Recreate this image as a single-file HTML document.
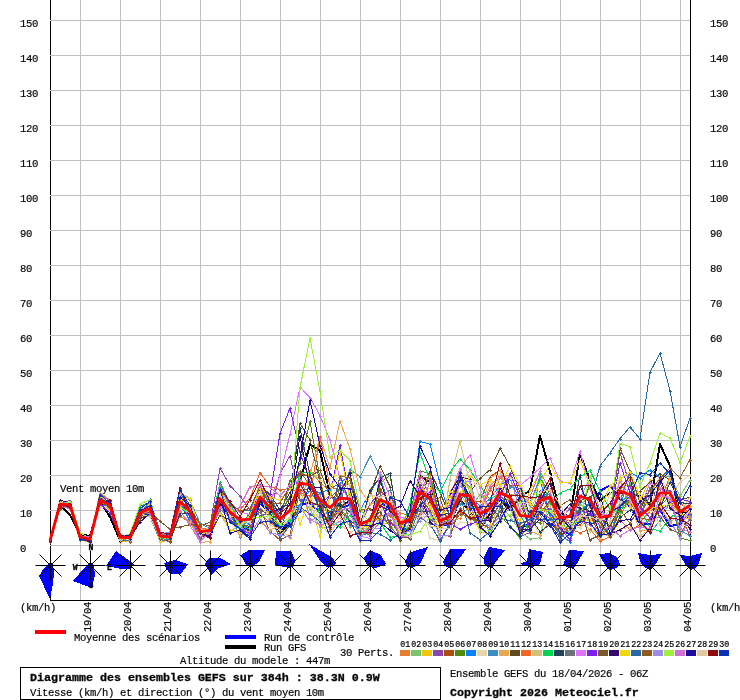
<!DOCTYPE html>
<html lang="fr">
<head>
<meta charset="utf-8">
<title>Diagramme des ensembles GEFS - vent moyen 10m</title>
<style>
html,body{margin:0;padding:0;background:#fff;}
body{width:740px;height:700px;overflow:hidden;}
svg{display:block;}
</style>
</head>
<body>
<svg width="740" height="700" viewBox="0 0 740 700">
<rect width="740" height="700" fill="#fff"/>
<g shape-rendering="crispEdges" stroke="#000" stroke-width="1" fill="none">
<path d="M50.5,0V601"/>
</g>
<g shape-rendering="crispEdges" stroke="#c0c0c0" stroke-width="1" fill="none">
<path d="M80.5,0V600M120.5,0V600M160.5,0V600M200.5,0V600M240.5,0V600M280.5,0V600M320.5,0V600M360.5,0V600M400.5,0V600M440.5,0V600M480.5,0V600M520.5,0V600M560.5,0V600M600.5,0V600M640.5,0V600M680.5,0V600M50,545.5H690M50,510.5H690M50,475.5H690M50,440.5H690M50,405.5H690M50,370.5H690M50,335.5H690M50,300.5H690M50,265.5H690M50,230.5H690M50,195.5H690M50,160.5H690M50,125.5H690M50,90.5H690M50,55.5H690M50,20.5H690"/>
</g>
<g shape-rendering="crispEdges" stroke="#000" stroke-width="1" fill="none">
<path d="M690.5,0V601M50,600.5H691"/>
</g>
<g fill="none" stroke-linejoin="round" shape-rendering="crispEdges">
<polyline stroke="#000" stroke-width="2" points="50,541.5 60,505.4 70,514.9 80,534.5 90,535.9 100,501.6 110,517.0 120,540.1 130,539.8 140,513.5 150,515.6 160,536.6 170,536.6 180,503.0 190,513.5 200,531.0 210,531.0 220,501.2 230,515.2 240,524.0 250,527.5 260,503.0 270,513.5 280,532.8 290,524.0 300,482.0 310,444.2 320,450.9 330,494.9 340,506.5 350,501.2 360,531.0 370,534.5 380,499.5 390,503.0 400,531.0 410,527.5 420,476.1 430,482.0 440,520.5 450,524.0 460,499.5 470,511.8 480,529.2 490,513.5 500,499.5 510,510.0 520,497.1 530,490.4 540,435.8 550,471.5 560,512.5 570,517.0 580,454.0 590,479.9 600,500.6 610,492.9 620,492.5 630,494.2 640,496.0 650,504.8 660,444.2 670,465.9 680,513.5 690,510.0"/>
<polyline stroke="#0000ff" stroke-width="2" points="50,541.5 60,503.7 70,504.4 80,537.3 90,539.4 100,499.9 110,504.4 120,538.7 130,540.1 140,510.7 150,507.2 160,538.0 170,539.4 180,500.9 190,510.7 200,534.5 210,537.3 220,504.8 230,515.2 240,525.8 250,531.0 260,503.0 270,513.5 280,529.2 290,522.2 300,504.8 310,503.0 320,513.5 330,522.2 340,508.2 350,504.8 360,532.8 370,529.2 380,503.0 390,508.2 400,532.8 410,529.2 420,489.0 430,496.0 440,524.0 450,525.8 460,492.5 470,501.2 480,522.2 490,506.5 500,499.5 510,506.5 520,527.5 530,524.0 540,510.0 550,524.0 560,529.2 570,534.5 580,520.5 590,513.5 600,490.8 610,485.5 620,499.5 630,506.5 640,524.0 650,524.0 660,510.0 670,526.1 680,524.0 690,513.5"/>
</g>
<g shape-rendering="crispEdges" fill="none" stroke-width="1">
<polyline stroke="#E67E30" points="50,538.0 60,502.8 70,505.3 80,538.7 90,541.9 100,497.7 110,502.6 120,536.0 130,539.1 140,509.4 150,515.6 160,540.3 170,540.3 180,515.9 190,522.7 200,535.2 210,533.2 220,499.9 230,506.6 240,525.0 250,519.7 260,488.2 270,519.5 280,536.5 290,525.0 300,474.6 310,470.1 320,482.6 330,490.6 340,516.5 350,511.1 360,533.6 370,531.2 380,499.9 390,502.8 400,513.0 410,515.5 420,480.1 430,507.9 440,524.4 450,522.3 460,518.2 470,504.1 480,531.7 490,506.9 500,476.5 510,494.6 520,493.9 530,518.5 540,507.5 550,512.5 560,524.9 570,533.4 580,507.7 590,522.1 600,510.5 610,485.9 620,490.1 630,479.7 640,521.9 650,511.5 660,504.4 670,491.2 680,509.9 690,512.7"/>
<path stroke="#E67E30" d="M49,538.5h3M50.5,537v3M59,503.5h3M60.5,502v3M69,505.5h3M70.5,504v3M79,539.5h3M80.5,538v3M89,542.5h3M90.5,541v3M99,498.5h3M100.5,497v3M109,503.5h3M110.5,502v3M119,536.5h3M120.5,535v3M129,539.5h3M130.5,538v3M139,509.5h3M140.5,508v3M149,516.5h3M150.5,515v3M159,540.5h3M160.5,539v3M169,540.5h3M170.5,539v3M179,516.5h3M180.5,515v3M189,523.5h3M190.5,522v3M199,535.5h3M200.5,534v3M209,533.5h3M210.5,532v3M219,500.5h3M220.5,499v3M229,507.5h3M230.5,506v3M239,525.5h3M240.5,524v3M249,520.5h3M250.5,519v3M259,488.5h3M260.5,487v3M269,520.5h3M270.5,519v3M279,536.5h3M280.5,535v3M289,525.5h3M290.5,524v3M299,475.5h3M300.5,474v3M309,470.5h3M310.5,469v3M319,483.5h3M320.5,482v3M329,491.5h3M330.5,490v3M339,517.5h3M340.5,516v3M349,511.5h3M350.5,510v3M359,534.5h3M360.5,533v3M369,531.5h3M370.5,530v3M379,500.5h3M380.5,499v3M389,503.5h3M390.5,502v3M399,513.5h3M400.5,512v3M409,515.5h3M410.5,514v3M419,480.5h3M420.5,479v3M429,508.5h3M430.5,507v3M439,524.5h3M440.5,523v3M449,522.5h3M450.5,521v3M459,518.5h3M460.5,517v3M469,504.5h3M470.5,503v3M479,532.5h3M480.5,531v3M489,507.5h3M490.5,506v3M499,477.5h3M500.5,476v3M509,495.5h3M510.5,494v3M519,494.5h3M520.5,493v3M529,518.5h3M530.5,517v3M539,508.5h3M540.5,507v3M549,513.5h3M550.5,512v3M559,525.5h3M560.5,524v3M569,533.5h3M570.5,532v3M579,508.5h3M580.5,507v3M589,522.5h3M590.5,521v3M599,511.5h3M600.5,510v3M609,486.5h3M610.5,485v3M619,490.5h3M620.5,489v3M629,480.5h3M630.5,479v3M639,522.5h3M640.5,521v3M649,511.5h3M650.5,510v3M659,504.5h3M660.5,503v3M669,491.5h3M670.5,490v3M679,510.5h3M680.5,509v3M689,513.5h3M690.5,512v3"/>
<polyline stroke="#7CC36C" points="50,541.7 60,505.9 70,503.8 80,539.0 90,542.5 100,501.4 110,509.4 120,539.1 130,539.3 140,517.6 150,507.3 160,537.9 170,531.7 180,492.5 190,498.6 200,531.8 210,529.0 220,491.1 230,522.4 240,529.3 250,526.1 260,496.1 270,506.4 280,526.8 290,521.0 300,492.7 310,509.2 320,526.5 330,528.1 340,512.5 350,526.7 360,526.1 370,532.1 380,517.7 390,524.2 400,540.6 410,521.8 420,488.4 430,482.3 440,518.5 450,515.8 460,478.5 470,509.2 480,494.1 490,506.5 500,505.2 510,516.4 520,531.2 530,538.8 540,537.8 550,498.6 560,516.0 570,535.2 580,503.9 590,511.7 600,525.5 610,535.7 620,516.1 630,481.8 640,516.2 650,494.9 660,476.6 670,476.1 680,496.1 690,479.9"/>
<path stroke="#7CC36C" d="M49,542.5h3M50.5,541v3M59,506.5h3M60.5,505v3M69,504.5h3M70.5,503v3M79,539.5h3M80.5,538v3M89,542.5h3M90.5,541v3M99,501.5h3M100.5,500v3M109,509.5h3M110.5,508v3M119,539.5h3M120.5,538v3M129,539.5h3M130.5,538v3M139,518.5h3M140.5,517v3M149,507.5h3M150.5,506v3M159,538.5h3M160.5,537v3M169,532.5h3M170.5,531v3M179,493.5h3M180.5,492v3M189,499.5h3M190.5,498v3M199,532.5h3M200.5,531v3M209,529.5h3M210.5,528v3M219,491.5h3M220.5,490v3M229,522.5h3M230.5,521v3M239,529.5h3M240.5,528v3M249,526.5h3M250.5,525v3M259,496.5h3M260.5,495v3M269,506.5h3M270.5,505v3M279,527.5h3M280.5,526v3M289,521.5h3M290.5,520v3M299,493.5h3M300.5,492v3M309,509.5h3M310.5,508v3M319,527.5h3M320.5,526v3M329,528.5h3M330.5,527v3M339,513.5h3M340.5,512v3M349,527.5h3M350.5,526v3M359,526.5h3M360.5,525v3M369,532.5h3M370.5,531v3M379,518.5h3M380.5,517v3M389,524.5h3M390.5,523v3M399,541.5h3M400.5,540v3M409,522.5h3M410.5,521v3M419,488.5h3M420.5,487v3M429,482.5h3M430.5,481v3M439,519.5h3M440.5,518v3M449,516.5h3M450.5,515v3M459,478.5h3M460.5,477v3M469,509.5h3M470.5,508v3M479,494.5h3M480.5,493v3M489,507.5h3M490.5,506v3M499,505.5h3M500.5,504v3M509,516.5h3M510.5,515v3M519,531.5h3M520.5,530v3M529,539.5h3M530.5,538v3M539,538.5h3M540.5,537v3M549,499.5h3M550.5,498v3M559,516.5h3M560.5,515v3M569,535.5h3M570.5,534v3M579,504.5h3M580.5,503v3M589,512.5h3M590.5,511v3M599,525.5h3M600.5,524v3M609,536.5h3M610.5,535v3M619,516.5h3M620.5,515v3M629,482.5h3M630.5,481v3M639,516.5h3M640.5,515v3M649,495.5h3M650.5,494v3M659,477.5h3M660.5,476v3M669,476.5h3M670.5,475v3M679,496.5h3M680.5,495v3M689,480.5h3M690.5,479v3"/>
<polyline stroke="#F1C40F" points="50,541.0 60,504.2 70,503.8 80,539.3 90,540.6 100,500.6 110,510.4 120,539.6 130,540.1 140,512.1 150,503.7 160,535.2 170,539.6 180,494.0 190,508.9 200,532.2 210,532.7 220,510.5 230,529.9 240,531.9 250,532.0 260,487.6 270,516.7 280,527.5 290,538.5 300,505.0 310,471.2 320,479.5 330,518.9 340,508.9 350,492.6 360,531.2 370,488.7 380,523.4 390,523.8 400,522.5 410,512.2 420,489.4 430,488.5 440,519.1 450,499.7 460,492.1 470,511.8 480,530.5 490,524.6 500,486.2 510,502.9 520,522.2 530,489.9 540,472.7 550,516.7 560,522.0 570,523.0 580,520.9 590,519.9 600,525.5 610,520.1 620,477.4 630,507.4 640,500.8 650,479.6 660,498.7 670,495.2 680,517.7 690,518.7"/>
<path stroke="#F1C40F" d="M49,541.5h3M50.5,540v3M59,504.5h3M60.5,503v3M69,504.5h3M70.5,503v3M79,539.5h3M80.5,538v3M89,541.5h3M90.5,540v3M99,501.5h3M100.5,500v3M109,510.5h3M110.5,509v3M119,540.5h3M120.5,539v3M129,540.5h3M130.5,539v3M139,512.5h3M140.5,511v3M149,504.5h3M150.5,503v3M159,535.5h3M160.5,534v3M169,540.5h3M170.5,539v3M179,494.5h3M180.5,493v3M189,509.5h3M190.5,508v3M199,532.5h3M200.5,531v3M209,533.5h3M210.5,532v3M219,510.5h3M220.5,509v3M229,530.5h3M230.5,529v3M239,532.5h3M240.5,531v3M249,532.5h3M250.5,531v3M259,488.5h3M260.5,487v3M269,517.5h3M270.5,516v3M279,528.5h3M280.5,527v3M289,538.5h3M290.5,537v3M299,505.5h3M300.5,504v3M309,471.5h3M310.5,470v3M319,480.5h3M320.5,479v3M329,519.5h3M330.5,518v3M339,509.5h3M340.5,508v3M349,493.5h3M350.5,492v3M359,531.5h3M360.5,530v3M369,489.5h3M370.5,488v3M379,523.5h3M380.5,522v3M389,524.5h3M390.5,523v3M399,523.5h3M400.5,522v3M409,512.5h3M410.5,511v3M419,489.5h3M420.5,488v3M429,488.5h3M430.5,487v3M439,519.5h3M440.5,518v3M449,500.5h3M450.5,499v3M459,492.5h3M460.5,491v3M469,512.5h3M470.5,511v3M479,531.5h3M480.5,530v3M489,525.5h3M490.5,524v3M499,486.5h3M500.5,485v3M509,503.5h3M510.5,502v3M519,522.5h3M520.5,521v3M529,490.5h3M530.5,489v3M539,473.5h3M540.5,472v3M549,517.5h3M550.5,516v3M559,522.5h3M560.5,521v3M569,523.5h3M570.5,522v3M579,521.5h3M580.5,520v3M589,520.5h3M590.5,519v3M599,525.5h3M600.5,524v3M609,520.5h3M610.5,519v3M619,477.5h3M620.5,476v3M629,507.5h3M630.5,506v3M639,501.5h3M640.5,500v3M649,480.5h3M650.5,479v3M659,499.5h3M660.5,498v3M669,495.5h3M670.5,494v3M679,518.5h3M680.5,517v3M689,519.5h3M690.5,518v3"/>
<polyline stroke="#8E44AD" points="50,537.6 60,504.5 70,504.9 80,535.6 90,537.4 100,499.9 110,504.3 120,537.9 130,535.6 140,514.2 150,501.0 160,531.6 170,536.8 180,497.9 190,516.3 200,540.2 210,525.8 220,468.0 230,485.5 240,496.0 250,510.0 260,515.6 270,513.5 280,473.6 290,455.8 300,499.5 310,500.3 320,514.6 330,494.9 340,507.9 350,501.6 360,525.3 370,504.3 380,492.2 390,526.2 400,525.3 410,521.7 420,514.5 430,490.9 440,524.5 450,525.2 460,479.1 470,486.7 480,514.1 490,502.3 500,506.8 510,527.1 520,536.4 530,532.6 540,496.3 550,493.9 560,517.7 570,521.0 580,511.9 590,504.7 600,527.4 610,513.5 620,452.9 630,485.5 640,515.7 650,496.2 660,488.5 670,491.0 680,518.5 690,525.0"/>
<path stroke="#8E44AD" d="M49,538.5h3M50.5,537v3M59,504.5h3M60.5,503v3M69,505.5h3M70.5,504v3M79,536.5h3M80.5,535v3M89,537.5h3M90.5,536v3M99,500.5h3M100.5,499v3M109,504.5h3M110.5,503v3M119,538.5h3M120.5,537v3M129,536.5h3M130.5,535v3M139,514.5h3M140.5,513v3M149,501.5h3M150.5,500v3M159,532.5h3M160.5,531v3M169,537.5h3M170.5,536v3M179,498.5h3M180.5,497v3M189,516.5h3M190.5,515v3M199,540.5h3M200.5,539v3M209,526.5h3M210.5,525v3M219,468.5h3M220.5,467v3M229,486.5h3M230.5,485v3M239,496.5h3M240.5,495v3M249,510.5h3M250.5,509v3M259,516.5h3M260.5,515v3M269,514.5h3M270.5,513v3M279,474.5h3M280.5,473v3M289,456.5h3M290.5,455v3M299,500.5h3M300.5,499v3M309,500.5h3M310.5,499v3M319,515.5h3M320.5,514v3M329,495.5h3M330.5,494v3M339,508.5h3M340.5,507v3M349,502.5h3M350.5,501v3M359,525.5h3M360.5,524v3M369,504.5h3M370.5,503v3M379,492.5h3M380.5,491v3M389,526.5h3M390.5,525v3M399,525.5h3M400.5,524v3M409,522.5h3M410.5,521v3M419,515.5h3M420.5,514v3M429,491.5h3M430.5,490v3M439,524.5h3M440.5,523v3M449,525.5h3M450.5,524v3M459,479.5h3M460.5,478v3M469,487.5h3M470.5,486v3M479,514.5h3M480.5,513v3M489,502.5h3M490.5,501v3M499,507.5h3M500.5,506v3M509,527.5h3M510.5,526v3M519,536.5h3M520.5,535v3M529,533.5h3M530.5,532v3M539,496.5h3M540.5,495v3M549,494.5h3M550.5,493v3M559,518.5h3M560.5,517v3M569,521.5h3M570.5,520v3M579,512.5h3M580.5,511v3M589,505.5h3M590.5,504v3M599,527.5h3M600.5,526v3M609,514.5h3M610.5,513v3M619,453.5h3M620.5,452v3M629,486.5h3M630.5,485v3M639,516.5h3M640.5,515v3M649,496.5h3M650.5,495v3M659,489.5h3M660.5,488v3M669,491.5h3M670.5,490v3M679,518.5h3M680.5,517v3M689,525.5h3M690.5,524v3"/>
<polyline stroke="#B04E0F" points="50,541.1 60,501.5 70,505.3 80,539.2 90,541.7 100,500.3 110,506.9 120,541.0 130,537.6 140,507.3 150,512.7 160,542.0 170,539.0 180,492.9 190,509.4 200,531.3 210,528.1 220,501.7 230,512.5 240,518.5 250,524.7 260,509.3 270,531.2 280,540.1 290,535.0 300,489.6 310,488.8 320,508.4 330,523.2 340,502.3 350,471.9 360,532.0 370,519.7 380,488.6 390,505.1 400,530.9 410,539.5 420,477.1 430,478.2 440,520.1 450,504.5 460,476.3 470,503.6 480,500.9 490,476.8 500,470.0 510,485.5 520,485.9 530,503.7 540,511.4 550,518.5 560,536.6 570,526.4 580,524.9 590,514.3 600,534.9 610,528.2 620,503.7 630,502.7 640,518.0 650,520.1 660,483.2 670,501.4 680,512.5 690,536.4"/>
<path stroke="#B04E0F" d="M49,541.5h3M50.5,540v3M59,502.5h3M60.5,501v3M69,505.5h3M70.5,504v3M79,539.5h3M80.5,538v3M89,542.5h3M90.5,541v3M99,500.5h3M100.5,499v3M109,507.5h3M110.5,506v3M119,541.5h3M120.5,540v3M129,538.5h3M130.5,537v3M139,507.5h3M140.5,506v3M149,513.5h3M150.5,512v3M159,542.5h3M160.5,541v3M169,539.5h3M170.5,538v3M179,493.5h3M180.5,492v3M189,509.5h3M190.5,508v3M199,531.5h3M200.5,530v3M209,528.5h3M210.5,527v3M219,502.5h3M220.5,501v3M229,512.5h3M230.5,511v3M239,519.5h3M240.5,518v3M249,525.5h3M250.5,524v3M259,509.5h3M260.5,508v3M269,531.5h3M270.5,530v3M279,540.5h3M280.5,539v3M289,535.5h3M290.5,534v3M299,490.5h3M300.5,489v3M309,489.5h3M310.5,488v3M319,508.5h3M320.5,507v3M329,523.5h3M330.5,522v3M339,502.5h3M340.5,501v3M349,472.5h3M350.5,471v3M359,532.5h3M360.5,531v3M369,520.5h3M370.5,519v3M379,489.5h3M380.5,488v3M389,505.5h3M390.5,504v3M399,531.5h3M400.5,530v3M409,539.5h3M410.5,538v3M419,477.5h3M420.5,476v3M429,478.5h3M430.5,477v3M439,520.5h3M440.5,519v3M449,505.5h3M450.5,504v3M459,476.5h3M460.5,475v3M469,504.5h3M470.5,503v3M479,501.5h3M480.5,500v3M489,477.5h3M490.5,476v3M499,470.5h3M500.5,469v3M509,486.5h3M510.5,485v3M519,486.5h3M520.5,485v3M529,504.5h3M530.5,503v3M539,511.5h3M540.5,510v3M549,519.5h3M550.5,518v3M559,537.5h3M560.5,536v3M569,526.5h3M570.5,525v3M579,525.5h3M580.5,524v3M589,514.5h3M590.5,513v3M599,535.5h3M600.5,534v3M609,528.5h3M610.5,527v3M619,504.5h3M620.5,503v3M629,503.5h3M630.5,502v3M639,518.5h3M640.5,517v3M649,520.5h3M650.5,519v3M659,483.5h3M660.5,482v3M669,501.5h3M670.5,500v3M679,512.5h3M680.5,511v3M689,536.5h3M690.5,535v3"/>
<polyline stroke="#508A0E" points="50,539.7 60,500.8 70,507.5 80,536.7 90,541.4 100,502.9 110,499.9 120,539.8 130,541.6 140,514.8 150,505.3 160,539.9 170,539.2 180,507.1 190,515.4 200,531.1 210,527.6 220,484.3 230,515.7 240,528.7 250,512.4 260,489.3 270,504.2 280,515.1 290,495.8 300,462.8 310,421.5 320,478.5 330,524.8 340,508.0 350,520.3 360,530.1 370,535.7 380,483.3 390,475.2 400,527.6 410,513.8 420,470.8 430,474.0 440,516.5 450,521.5 460,494.9 470,494.8 480,517.8 490,518.7 500,516.0 510,525.8 520,538.1 530,521.7 540,522.5 550,511.6 560,524.2 570,527.9 580,514.9 590,483.2 600,515.8 610,516.8 620,515.9 630,498.2 640,519.8 650,532.0 660,506.5 670,495.4 680,537.9 690,540.4"/>
<path stroke="#508A0E" d="M49,540.5h3M50.5,539v3M59,501.5h3M60.5,500v3M69,508.5h3M70.5,507v3M79,537.5h3M80.5,536v3M89,541.5h3M90.5,540v3M99,503.5h3M100.5,502v3M109,500.5h3M110.5,499v3M119,540.5h3M120.5,539v3M129,542.5h3M130.5,541v3M139,515.5h3M140.5,514v3M149,505.5h3M150.5,504v3M159,540.5h3M160.5,539v3M169,539.5h3M170.5,538v3M179,507.5h3M180.5,506v3M189,515.5h3M190.5,514v3M199,531.5h3M200.5,530v3M209,528.5h3M210.5,527v3M219,484.5h3M220.5,483v3M229,516.5h3M230.5,515v3M239,529.5h3M240.5,528v3M249,512.5h3M250.5,511v3M259,489.5h3M260.5,488v3M269,504.5h3M270.5,503v3M279,515.5h3M280.5,514v3M289,496.5h3M290.5,495v3M299,463.5h3M300.5,462v3M309,421.5h3M310.5,420v3M319,478.5h3M320.5,477v3M329,525.5h3M330.5,524v3M339,508.5h3M340.5,507v3M349,520.5h3M350.5,519v3M359,530.5h3M360.5,529v3M369,536.5h3M370.5,535v3M379,483.5h3M380.5,482v3M389,475.5h3M390.5,474v3M399,528.5h3M400.5,527v3M409,514.5h3M410.5,513v3M419,471.5h3M420.5,470v3M429,474.5h3M430.5,473v3M439,516.5h3M440.5,515v3M449,522.5h3M450.5,521v3M459,495.5h3M460.5,494v3M469,495.5h3M470.5,494v3M479,518.5h3M480.5,517v3M489,519.5h3M490.5,518v3M499,516.5h3M500.5,515v3M509,526.5h3M510.5,525v3M519,538.5h3M520.5,537v3M529,522.5h3M530.5,521v3M539,523.5h3M540.5,522v3M549,512.5h3M550.5,511v3M559,524.5h3M560.5,523v3M569,528.5h3M570.5,527v3M579,515.5h3M580.5,514v3M589,483.5h3M590.5,482v3M599,516.5h3M600.5,515v3M609,517.5h3M610.5,516v3M619,516.5h3M620.5,515v3M629,498.5h3M630.5,497v3M639,520.5h3M640.5,519v3M649,532.5h3M650.5,531v3M659,506.5h3M660.5,505v3M669,495.5h3M670.5,494v3M679,538.5h3M680.5,537v3M689,540.5h3M690.5,539v3"/>
<polyline stroke="#0A7FFF" points="50,537.6 60,508.1 70,504.8 80,535.6 90,540.5 100,504.9 110,505.8 120,538.2 130,541.9 140,518.0 150,498.9 160,536.2 170,541.9 180,502.2 190,521.3 200,533.9 210,530.0 220,505.1 230,512.2 240,537.5 250,521.8 260,501.8 270,501.2 280,518.2 290,509.8 300,504.5 310,490.0 320,492.7 330,489.3 340,482.9 350,475.1 360,510.6 370,492.5 380,477.2 390,509.2 400,540.4 410,513.5 420,441.4 430,444.2 440,483.4 450,517.0 460,485.5 470,495.3 480,506.1 490,498.9 500,485.4 510,478.3 520,501.5 530,502.5 540,480.1 550,515.2 560,533.9 570,542.0 580,511.0 590,502.4 600,511.1 610,537.2 620,507.1 630,472.3 640,478.1 650,469.8 660,478.0 670,470.4 680,522.2 690,514.7"/>
<path stroke="#0A7FFF" d="M49,538.5h3M50.5,537v3M59,508.5h3M60.5,507v3M69,505.5h3M70.5,504v3M79,536.5h3M80.5,535v3M89,541.5h3M90.5,540v3M99,505.5h3M100.5,504v3M109,506.5h3M110.5,505v3M119,538.5h3M120.5,537v3M129,542.5h3M130.5,541v3M139,518.5h3M140.5,517v3M149,499.5h3M150.5,498v3M159,536.5h3M160.5,535v3M169,542.5h3M170.5,541v3M179,502.5h3M180.5,501v3M189,521.5h3M190.5,520v3M199,534.5h3M200.5,533v3M209,530.5h3M210.5,529v3M219,505.5h3M220.5,504v3M229,512.5h3M230.5,511v3M239,537.5h3M240.5,536v3M249,522.5h3M250.5,521v3M259,502.5h3M260.5,501v3M269,501.5h3M270.5,500v3M279,518.5h3M280.5,517v3M289,510.5h3M290.5,509v3M299,504.5h3M300.5,503v3M309,490.5h3M310.5,489v3M319,493.5h3M320.5,492v3M329,489.5h3M330.5,488v3M339,483.5h3M340.5,482v3M349,475.5h3M350.5,474v3M359,511.5h3M360.5,510v3M369,493.5h3M370.5,492v3M379,477.5h3M380.5,476v3M389,509.5h3M390.5,508v3M399,540.5h3M400.5,539v3M409,514.5h3M410.5,513v3M419,441.5h3M420.5,440v3M429,444.5h3M430.5,443v3M439,483.5h3M440.5,482v3M449,517.5h3M450.5,516v3M459,485.5h3M460.5,484v3M469,495.5h3M470.5,494v3M479,506.5h3M480.5,505v3M489,499.5h3M490.5,498v3M499,485.5h3M500.5,484v3M509,478.5h3M510.5,477v3M519,501.5h3M520.5,500v3M529,503.5h3M530.5,502v3M539,480.5h3M540.5,479v3M549,515.5h3M550.5,514v3M559,534.5h3M560.5,533v3M569,542.5h3M570.5,541v3M579,511.5h3M580.5,510v3M589,502.5h3M590.5,501v3M599,511.5h3M600.5,510v3M609,537.5h3M610.5,536v3M619,507.5h3M620.5,506v3M629,472.5h3M630.5,471v3M639,478.5h3M640.5,477v3M649,470.5h3M650.5,469v3M659,478.5h3M660.5,477v3M669,470.5h3M670.5,469v3M679,522.5h3M680.5,521v3M689,515.5h3M690.5,514v3"/>
<polyline stroke="#E8D5B0" points="50,541.3 60,504.3 70,505.4 80,539.0 90,542.3 100,506.7 110,506.1 120,541.0 130,541.0 140,519.5 150,505.9 160,538.3 170,538.1 180,505.4 190,515.6 200,530.6 210,527.6 220,489.4 230,509.0 240,525.1 250,516.6 260,479.8 270,499.7 280,515.8 290,485.7 300,479.7 310,490.0 320,523.3 330,535.2 340,516.2 350,519.1 360,526.8 370,527.0 380,502.6 390,499.1 400,538.2 410,534.1 420,502.0 430,538.0 440,540.9 450,533.3 460,522.2 470,522.1 480,526.8 490,482.6 500,483.7 510,500.1 520,515.4 530,514.7 540,536.1 550,475.5 560,527.8 570,525.3 580,527.7 590,516.9 600,520.9 610,493.4 620,501.0 630,476.2 640,501.8 650,510.6 660,474.8 670,500.0 680,531.7 690,509.2"/>
<path stroke="#E8D5B0" d="M49,541.5h3M50.5,540v3M59,504.5h3M60.5,503v3M69,505.5h3M70.5,504v3M79,539.5h3M80.5,538v3M89,542.5h3M90.5,541v3M99,507.5h3M100.5,506v3M109,506.5h3M110.5,505v3M119,541.5h3M120.5,540v3M129,541.5h3M130.5,540v3M139,520.5h3M140.5,519v3M149,506.5h3M150.5,505v3M159,538.5h3M160.5,537v3M169,538.5h3M170.5,537v3M179,505.5h3M180.5,504v3M189,516.5h3M190.5,515v3M199,531.5h3M200.5,530v3M209,528.5h3M210.5,527v3M219,489.5h3M220.5,488v3M229,509.5h3M230.5,508v3M239,525.5h3M240.5,524v3M249,517.5h3M250.5,516v3M259,480.5h3M260.5,479v3M269,500.5h3M270.5,499v3M279,516.5h3M280.5,515v3M289,486.5h3M290.5,485v3M299,480.5h3M300.5,479v3M309,490.5h3M310.5,489v3M319,523.5h3M320.5,522v3M329,535.5h3M330.5,534v3M339,516.5h3M340.5,515v3M349,519.5h3M350.5,518v3M359,527.5h3M360.5,526v3M369,527.5h3M370.5,526v3M379,503.5h3M380.5,502v3M389,499.5h3M390.5,498v3M399,538.5h3M400.5,537v3M409,534.5h3M410.5,533v3M419,502.5h3M420.5,501v3M429,538.5h3M430.5,537v3M439,541.5h3M440.5,540v3M449,533.5h3M450.5,532v3M459,522.5h3M460.5,521v3M469,522.5h3M470.5,521v3M479,527.5h3M480.5,526v3M489,483.5h3M490.5,482v3M499,484.5h3M500.5,483v3M509,500.5h3M510.5,499v3M519,515.5h3M520.5,514v3M529,515.5h3M530.5,514v3M539,536.5h3M540.5,535v3M549,476.5h3M550.5,475v3M559,528.5h3M560.5,527v3M569,525.5h3M570.5,524v3M579,528.5h3M580.5,527v3M589,517.5h3M590.5,516v3M599,521.5h3M600.5,520v3M609,493.5h3M610.5,492v3M619,501.5h3M620.5,500v3M629,476.5h3M630.5,475v3M639,502.5h3M640.5,501v3M649,511.5h3M650.5,510v3M659,475.5h3M660.5,474v3M669,500.5h3M670.5,499v3M679,532.5h3M680.5,531v3M689,509.5h3M690.5,508v3"/>
<polyline stroke="#3A8FC0" points="50,540.9 60,504.6 70,505.5 80,536.7 90,540.2 100,499.8 110,507.4 120,534.7 130,537.3 140,512.7 150,516.5 160,541.2 170,536.5 180,496.5 190,500.5 200,523.0 210,529.0 220,508.4 230,509.1 240,528.7 250,518.3 260,487.2 270,495.6 280,517.5 290,526.1 300,504.1 310,496.4 320,493.7 330,522.7 340,496.0 350,469.4 360,476.8 370,456.4 380,475.7 390,510.0 400,530.3 410,536.1 420,503.8 430,495.3 440,525.2 450,519.5 460,503.5 470,506.9 480,508.7 490,534.1 500,507.5 510,486.6 520,488.3 530,504.8 540,476.5 550,494.8 560,520.4 570,523.5 580,501.8 590,506.2 600,534.2 610,527.7 620,504.0 630,493.3 640,522.9 650,533.3 660,520.2 670,502.0 680,530.6 690,535.7"/>
<path stroke="#3A8FC0" d="M49,541.5h3M50.5,540v3M59,505.5h3M60.5,504v3M69,505.5h3M70.5,504v3M79,537.5h3M80.5,536v3M89,540.5h3M90.5,539v3M99,500.5h3M100.5,499v3M109,507.5h3M110.5,506v3M119,535.5h3M120.5,534v3M129,537.5h3M130.5,536v3M139,513.5h3M140.5,512v3M149,517.5h3M150.5,516v3M159,541.5h3M160.5,540v3M169,537.5h3M170.5,536v3M179,497.5h3M180.5,496v3M189,500.5h3M190.5,499v3M199,523.5h3M200.5,522v3M209,529.5h3M210.5,528v3M219,508.5h3M220.5,507v3M229,509.5h3M230.5,508v3M239,529.5h3M240.5,528v3M249,518.5h3M250.5,517v3M259,487.5h3M260.5,486v3M269,496.5h3M270.5,495v3M279,517.5h3M280.5,516v3M289,526.5h3M290.5,525v3M299,504.5h3M300.5,503v3M309,496.5h3M310.5,495v3M319,494.5h3M320.5,493v3M329,523.5h3M330.5,522v3M339,496.5h3M340.5,495v3M349,469.5h3M350.5,468v3M359,477.5h3M360.5,476v3M369,456.5h3M370.5,455v3M379,476.5h3M380.5,475v3M389,510.5h3M390.5,509v3M399,530.5h3M400.5,529v3M409,536.5h3M410.5,535v3M419,504.5h3M420.5,503v3M429,495.5h3M430.5,494v3M439,525.5h3M440.5,524v3M449,520.5h3M450.5,519v3M459,504.5h3M460.5,503v3M469,507.5h3M470.5,506v3M479,509.5h3M480.5,508v3M489,534.5h3M490.5,533v3M499,507.5h3M500.5,506v3M509,487.5h3M510.5,486v3M519,488.5h3M520.5,487v3M529,505.5h3M530.5,504v3M539,476.5h3M540.5,475v3M549,495.5h3M550.5,494v3M559,520.5h3M560.5,519v3M569,524.5h3M570.5,523v3M579,502.5h3M580.5,501v3M589,506.5h3M590.5,505v3M599,534.5h3M600.5,533v3M609,528.5h3M610.5,527v3M619,504.5h3M620.5,503v3M629,493.5h3M630.5,492v3M639,523.5h3M640.5,522v3M649,533.5h3M650.5,532v3M659,520.5h3M660.5,519v3M669,502.5h3M670.5,501v3M679,531.5h3M680.5,530v3M689,536.5h3M690.5,535v3"/>
<polyline stroke="#E8A850" points="50,541.2 60,504.3 70,503.3 80,538.5 90,537.1 100,492.8 110,500.1 120,542.2 130,540.4 140,511.7 150,511.7 160,535.9 170,535.5 180,511.9 190,521.9 200,542.3 210,541.7 220,486.3 230,517.2 240,536.4 250,530.0 260,522.1 270,529.5 280,527.2 290,519.3 300,474.1 310,475.0 320,436.5 330,468.0 340,421.1 350,449.1 360,489.7 370,503.7 380,503.8 390,497.6 400,531.9 410,514.3 420,514.7 430,509.6 440,518.8 450,496.0 460,468.0 470,492.5 480,512.3 490,478.8 500,470.5 510,502.1 520,529.4 530,531.0 540,535.3 550,519.5 560,529.4 570,514.6 580,512.3 590,522.2 600,539.1 610,522.6 620,512.7 630,503.3 640,530.9 650,529.8 660,506.4 670,523.1 680,513.5 690,517.6"/>
<path stroke="#E8A850" d="M49,541.5h3M50.5,540v3M59,504.5h3M60.5,503v3M69,503.5h3M70.5,502v3M79,538.5h3M80.5,537v3M89,537.5h3M90.5,536v3M99,493.5h3M100.5,492v3M109,500.5h3M110.5,499v3M119,542.5h3M120.5,541v3M129,540.5h3M130.5,539v3M139,512.5h3M140.5,511v3M149,512.5h3M150.5,511v3M159,536.5h3M160.5,535v3M169,536.5h3M170.5,535v3M179,512.5h3M180.5,511v3M189,522.5h3M190.5,521v3M199,542.5h3M200.5,541v3M209,542.5h3M210.5,541v3M219,486.5h3M220.5,485v3M229,517.5h3M230.5,516v3M239,536.5h3M240.5,535v3M249,530.5h3M250.5,529v3M259,522.5h3M260.5,521v3M269,530.5h3M270.5,529v3M279,527.5h3M280.5,526v3M289,519.5h3M290.5,518v3M299,474.5h3M300.5,473v3M309,475.5h3M310.5,474v3M319,436.5h3M320.5,435v3M329,468.5h3M330.5,467v3M339,421.5h3M340.5,420v3M349,449.5h3M350.5,448v3M359,490.5h3M360.5,489v3M369,504.5h3M370.5,503v3M379,504.5h3M380.5,503v3M389,498.5h3M390.5,497v3M399,532.5h3M400.5,531v3M409,514.5h3M410.5,513v3M419,515.5h3M420.5,514v3M429,510.5h3M430.5,509v3M439,519.5h3M440.5,518v3M449,496.5h3M450.5,495v3M459,468.5h3M460.5,467v3M469,492.5h3M470.5,491v3M479,512.5h3M480.5,511v3M489,479.5h3M490.5,478v3M499,470.5h3M500.5,469v3M509,502.5h3M510.5,501v3M519,529.5h3M520.5,528v3M529,531.5h3M530.5,530v3M539,535.5h3M540.5,534v3M549,519.5h3M550.5,518v3M559,529.5h3M560.5,528v3M569,515.5h3M570.5,514v3M579,512.5h3M580.5,511v3M589,522.5h3M590.5,521v3M599,539.5h3M600.5,538v3M609,523.5h3M610.5,522v3M619,513.5h3M620.5,512v3M629,503.5h3M630.5,502v3M639,531.5h3M640.5,530v3M649,530.5h3M650.5,529v3M659,506.5h3M660.5,505v3M669,523.5h3M670.5,522v3M679,514.5h3M680.5,513v3M689,518.5h3M690.5,517v3"/>
<polyline stroke="#5E4A1E" points="50,541.1 60,505.0 70,506.9 80,538.6 90,539.4 100,502.9 110,503.4 120,534.5 130,539.3 140,519.7 150,511.9 160,535.3 170,535.7 180,514.5 190,510.7 200,534.9 210,534.3 220,515.3 230,519.9 240,528.8 250,530.3 260,487.2 270,493.7 280,534.7 290,496.0 300,423.2 310,440.0 320,482.0 330,519.9 340,510.5 350,521.4 360,524.0 370,495.3 380,465.9 390,486.6 400,540.1 410,527.0 420,504.6 430,471.1 440,491.9 450,517.0 460,499.0 470,492.5 480,478.5 490,469.8 500,448.4 510,466.2 520,492.9 530,518.8 540,495.3 550,497.7 560,533.4 570,524.3 580,501.0 590,496.8 600,518.8 610,525.8 620,506.9 630,499.5 640,491.1 650,482.4 660,473.6 670,480.2 680,499.5 690,497.4"/>
<path stroke="#5E4A1E" d="M49,541.5h3M50.5,540v3M59,505.5h3M60.5,504v3M69,507.5h3M70.5,506v3M79,539.5h3M80.5,538v3M89,539.5h3M90.5,538v3M99,503.5h3M100.5,502v3M109,503.5h3M110.5,502v3M119,534.5h3M120.5,533v3M129,539.5h3M130.5,538v3M139,520.5h3M140.5,519v3M149,512.5h3M150.5,511v3M159,535.5h3M160.5,534v3M169,536.5h3M170.5,535v3M179,515.5h3M180.5,514v3M189,511.5h3M190.5,510v3M199,535.5h3M200.5,534v3M209,534.5h3M210.5,533v3M219,515.5h3M220.5,514v3M229,520.5h3M230.5,519v3M239,529.5h3M240.5,528v3M249,530.5h3M250.5,529v3M259,487.5h3M260.5,486v3M269,494.5h3M270.5,493v3M279,535.5h3M280.5,534v3M289,496.5h3M290.5,495v3M299,423.5h3M300.5,422v3M309,440.5h3M310.5,439v3M319,482.5h3M320.5,481v3M329,520.5h3M330.5,519v3M339,511.5h3M340.5,510v3M349,521.5h3M350.5,520v3M359,524.5h3M360.5,523v3M369,495.5h3M370.5,494v3M379,466.5h3M380.5,465v3M389,487.5h3M390.5,486v3M399,540.5h3M400.5,539v3M409,527.5h3M410.5,526v3M419,505.5h3M420.5,504v3M429,471.5h3M430.5,470v3M439,492.5h3M440.5,491v3M449,517.5h3M450.5,516v3M459,499.5h3M460.5,498v3M469,492.5h3M470.5,491v3M479,478.5h3M480.5,477v3M489,470.5h3M490.5,469v3M499,448.5h3M500.5,447v3M509,466.5h3M510.5,465v3M519,493.5h3M520.5,492v3M529,519.5h3M530.5,518v3M539,495.5h3M540.5,494v3M549,498.5h3M550.5,497v3M559,533.5h3M560.5,532v3M569,524.5h3M570.5,523v3M579,501.5h3M580.5,500v3M589,497.5h3M590.5,496v3M599,519.5h3M600.5,518v3M609,526.5h3M610.5,525v3M619,507.5h3M620.5,506v3M629,500.5h3M630.5,499v3M639,491.5h3M640.5,490v3M649,482.5h3M650.5,481v3M659,474.5h3M660.5,473v3M669,480.5h3M670.5,479v3M679,500.5h3M680.5,499v3M689,497.5h3M690.5,496v3"/>
<polyline stroke="#F26522" points="50,537.8 60,502.5 70,503.8 80,536.9 90,537.8 100,500.7 110,506.0 120,537.6 130,537.6 140,511.1 150,507.9 160,538.5 170,535.4 180,507.3 190,511.2 200,527.4 210,530.2 220,489.5 230,513.8 240,510.0 250,497.8 260,472.6 270,486.6 280,489.7 290,488.6 300,492.5 310,496.0 320,436.9 330,487.2 340,490.0 350,522.0 360,538.9 370,526.0 380,515.4 390,515.7 400,525.5 410,515.2 420,491.3 430,474.5 440,507.0 450,521.0 460,512.2 470,519.1 480,513.1 490,490.0 500,475.2 510,475.0 520,495.0 530,504.3 540,520.4 550,499.5 560,527.8 570,529.1 580,532.6 590,529.3 600,541.1 610,536.6 620,519.8 630,529.7 640,525.2 650,520.0 660,502.4 670,475.8 680,501.6 690,515.7"/>
<path stroke="#F26522" d="M49,538.5h3M50.5,537v3M59,503.5h3M60.5,502v3M69,504.5h3M70.5,503v3M79,537.5h3M80.5,536v3M89,538.5h3M90.5,537v3M99,501.5h3M100.5,500v3M109,506.5h3M110.5,505v3M119,538.5h3M120.5,537v3M129,538.5h3M130.5,537v3M139,511.5h3M140.5,510v3M149,508.5h3M150.5,507v3M159,539.5h3M160.5,538v3M169,535.5h3M170.5,534v3M179,507.5h3M180.5,506v3M189,511.5h3M190.5,510v3M199,527.5h3M200.5,526v3M209,530.5h3M210.5,529v3M219,489.5h3M220.5,488v3M229,514.5h3M230.5,513v3M239,510.5h3M240.5,509v3M249,498.5h3M250.5,497v3M259,473.5h3M260.5,472v3M269,487.5h3M270.5,486v3M279,490.5h3M280.5,489v3M289,489.5h3M290.5,488v3M299,492.5h3M300.5,491v3M309,496.5h3M310.5,495v3M319,437.5h3M320.5,436v3M329,487.5h3M330.5,486v3M339,490.5h3M340.5,489v3M349,522.5h3M350.5,521v3M359,539.5h3M360.5,538v3M369,526.5h3M370.5,525v3M379,515.5h3M380.5,514v3M389,516.5h3M390.5,515v3M399,525.5h3M400.5,524v3M409,515.5h3M410.5,514v3M419,491.5h3M420.5,490v3M429,475.5h3M430.5,474v3M439,507.5h3M440.5,506v3M449,521.5h3M450.5,520v3M459,512.5h3M460.5,511v3M469,519.5h3M470.5,518v3M479,513.5h3M480.5,512v3M489,490.5h3M490.5,489v3M499,475.5h3M500.5,474v3M509,475.5h3M510.5,474v3M519,495.5h3M520.5,494v3M529,504.5h3M530.5,503v3M539,520.5h3M540.5,519v3M549,500.5h3M550.5,499v3M559,528.5h3M560.5,527v3M569,529.5h3M570.5,528v3M579,533.5h3M580.5,532v3M589,529.5h3M590.5,528v3M599,541.5h3M600.5,540v3M609,537.5h3M610.5,536v3M619,520.5h3M620.5,519v3M629,530.5h3M630.5,529v3M639,525.5h3M640.5,524v3M649,520.5h3M650.5,519v3M659,502.5h3M660.5,501v3M669,476.5h3M670.5,475v3M679,502.5h3M680.5,501v3M689,516.5h3M690.5,515v3"/>
<polyline stroke="#D4C078" points="50,541.3 60,503.6 70,506.0 80,539.8 90,542.1 100,500.8 110,507.4 120,538.6 130,539.7 140,507.8 150,509.3 160,541.6 170,540.5 180,493.8 190,498.7 200,535.8 210,524.8 220,513.0 230,531.6 240,524.3 250,526.7 260,507.9 270,514.4 280,516.4 290,511.8 300,472.6 310,471.8 320,479.9 330,485.7 340,475.9 350,485.6 360,541.6 370,520.0 380,511.1 390,501.8 400,521.7 410,523.3 420,479.9 430,501.9 440,540.1 450,479.6 460,441.4 470,483.4 480,531.2 490,535.1 500,495.9 510,495.9 520,492.1 530,521.1 540,511.0 550,505.3 560,530.2 570,530.5 580,515.0 590,531.4 600,531.9 610,536.9 620,529.4 630,527.1 640,536.1 650,528.9 660,508.3 670,477.5 680,512.8 690,496.9"/>
<path stroke="#D4C078" d="M49,541.5h3M50.5,540v3M59,504.5h3M60.5,503v3M69,506.5h3M70.5,505v3M79,540.5h3M80.5,539v3M89,542.5h3M90.5,541v3M99,501.5h3M100.5,500v3M109,507.5h3M110.5,506v3M119,539.5h3M120.5,538v3M129,540.5h3M130.5,539v3M139,508.5h3M140.5,507v3M149,509.5h3M150.5,508v3M159,542.5h3M160.5,541v3M169,540.5h3M170.5,539v3M179,494.5h3M180.5,493v3M189,499.5h3M190.5,498v3M199,536.5h3M200.5,535v3M209,525.5h3M210.5,524v3M219,513.5h3M220.5,512v3M229,532.5h3M230.5,531v3M239,524.5h3M240.5,523v3M249,527.5h3M250.5,526v3M259,508.5h3M260.5,507v3M269,514.5h3M270.5,513v3M279,516.5h3M280.5,515v3M289,512.5h3M290.5,511v3M299,473.5h3M300.5,472v3M309,472.5h3M310.5,471v3M319,480.5h3M320.5,479v3M329,486.5h3M330.5,485v3M339,476.5h3M340.5,475v3M349,486.5h3M350.5,485v3M359,542.5h3M360.5,541v3M369,520.5h3M370.5,519v3M379,511.5h3M380.5,510v3M389,502.5h3M390.5,501v3M399,522.5h3M400.5,521v3M409,523.5h3M410.5,522v3M419,480.5h3M420.5,479v3M429,502.5h3M430.5,501v3M439,540.5h3M440.5,539v3M449,480.5h3M450.5,479v3M459,441.5h3M460.5,440v3M469,483.5h3M470.5,482v3M479,531.5h3M480.5,530v3M489,535.5h3M490.5,534v3M499,496.5h3M500.5,495v3M509,496.5h3M510.5,495v3M519,492.5h3M520.5,491v3M529,521.5h3M530.5,520v3M539,511.5h3M540.5,510v3M549,505.5h3M550.5,504v3M559,530.5h3M560.5,529v3M569,530.5h3M570.5,529v3M579,515.5h3M580.5,514v3M589,531.5h3M590.5,530v3M599,532.5h3M600.5,531v3M609,537.5h3M610.5,536v3M619,529.5h3M620.5,528v3M629,527.5h3M630.5,526v3M639,536.5h3M640.5,535v3M649,529.5h3M650.5,528v3M659,508.5h3M660.5,507v3M669,478.5h3M670.5,477v3M679,513.5h3M680.5,512v3M689,497.5h3M690.5,496v3"/>
<polyline stroke="#00D455" points="50,541.5 60,506.7 70,504.3 80,538.0 90,541.9 100,501.4 110,500.9 120,536.1 130,539.2 140,506.5 150,502.0 160,538.9 170,537.4 180,504.3 190,516.4 200,536.1 210,529.1 220,482.3 230,503.2 240,523.9 250,529.6 260,501.6 270,508.5 280,528.0 290,519.7 300,472.6 310,473.0 320,517.3 330,518.4 340,527.3 350,515.0 360,531.3 370,533.5 380,522.3 390,537.4 400,535.4 410,503.0 420,452.9 430,480.9 440,491.8 450,472.2 460,458.9 470,469.8 480,485.5 490,499.5 500,492.7 510,498.8 520,514.0 530,533.3 540,474.4 550,503.0 560,492.9 570,489.0 580,476.8 590,470.4 600,490.8 610,510.0 620,512.1 630,497.3 640,507.2 650,528.3 660,531.2 670,518.2 680,509.6 690,507.6"/>
<path stroke="#00D455" d="M49,542.5h3M50.5,541v3M59,507.5h3M60.5,506v3M69,504.5h3M70.5,503v3M79,538.5h3M80.5,537v3M89,542.5h3M90.5,541v3M99,501.5h3M100.5,500v3M109,501.5h3M110.5,500v3M119,536.5h3M120.5,535v3M129,539.5h3M130.5,538v3M139,507.5h3M140.5,506v3M149,502.5h3M150.5,501v3M159,539.5h3M160.5,538v3M169,537.5h3M170.5,536v3M179,504.5h3M180.5,503v3M189,516.5h3M190.5,515v3M199,536.5h3M200.5,535v3M209,529.5h3M210.5,528v3M219,482.5h3M220.5,481v3M229,503.5h3M230.5,502v3M239,524.5h3M240.5,523v3M249,530.5h3M250.5,529v3M259,502.5h3M260.5,501v3M269,508.5h3M270.5,507v3M279,528.5h3M280.5,527v3M289,520.5h3M290.5,519v3M299,473.5h3M300.5,472v3M309,473.5h3M310.5,472v3M319,517.5h3M320.5,516v3M329,518.5h3M330.5,517v3M339,527.5h3M340.5,526v3M349,515.5h3M350.5,514v3M359,531.5h3M360.5,530v3M369,534.5h3M370.5,533v3M379,522.5h3M380.5,521v3M389,537.5h3M390.5,536v3M399,535.5h3M400.5,534v3M409,503.5h3M410.5,502v3M419,453.5h3M420.5,452v3M429,481.5h3M430.5,480v3M439,492.5h3M440.5,491v3M449,472.5h3M450.5,471v3M459,459.5h3M460.5,458v3M469,470.5h3M470.5,469v3M479,486.5h3M480.5,485v3M489,500.5h3M490.5,499v3M499,493.5h3M500.5,492v3M509,499.5h3M510.5,498v3M519,514.5h3M520.5,513v3M529,533.5h3M530.5,532v3M539,474.5h3M540.5,473v3M549,503.5h3M550.5,502v3M559,493.5h3M560.5,492v3M569,489.5h3M570.5,488v3M579,477.5h3M580.5,476v3M589,470.5h3M590.5,469v3M599,491.5h3M600.5,490v3M609,510.5h3M610.5,509v3M619,512.5h3M620.5,511v3M629,497.5h3M630.5,496v3M639,507.5h3M640.5,506v3M649,528.5h3M650.5,527v3M659,531.5h3M660.5,530v3M669,518.5h3M670.5,517v3M679,510.5h3M680.5,509v3M689,508.5h3M690.5,507v3"/>
<polyline stroke="#23405E" points="50,539.3 60,506.6 70,504.5 80,534.8 90,538.9 100,499.5 110,508.5 120,539.7 130,538.4 140,516.8 150,513.3 160,539.1 170,541.4 180,513.3 190,513.7 200,536.3 210,532.4 220,494.0 230,510.2 240,524.6 250,515.4 260,488.3 270,494.4 280,510.2 290,492.5 300,428.1 310,475.0 320,502.9 330,511.7 340,503.9 350,512.1 360,528.1 370,490.0 380,477.5 390,473.4 400,532.4 410,514.9 420,511.3 430,511.3 440,529.1 450,513.5 460,471.9 470,499.8 480,525.0 490,505.0 500,518.3 510,475.5 520,485.4 530,516.7 540,531.8 550,524.5 560,537.8 570,526.5 580,475.4 590,524.2 600,520.7 610,536.6 620,517.4 630,510.2 640,512.2 650,482.3 660,509.7 670,481.9 680,502.9 690,503.2"/>
<path stroke="#23405E" d="M49,539.5h3M50.5,538v3M59,507.5h3M60.5,506v3M69,504.5h3M70.5,503v3M79,535.5h3M80.5,534v3M89,539.5h3M90.5,538v3M99,499.5h3M100.5,498v3M109,508.5h3M110.5,507v3M119,540.5h3M120.5,539v3M129,538.5h3M130.5,537v3M139,517.5h3M140.5,516v3M149,513.5h3M150.5,512v3M159,539.5h3M160.5,538v3M169,541.5h3M170.5,540v3M179,513.5h3M180.5,512v3M189,514.5h3M190.5,513v3M199,536.5h3M200.5,535v3M209,532.5h3M210.5,531v3M219,494.5h3M220.5,493v3M229,510.5h3M230.5,509v3M239,525.5h3M240.5,524v3M249,515.5h3M250.5,514v3M259,488.5h3M260.5,487v3M269,494.5h3M270.5,493v3M279,510.5h3M280.5,509v3M289,492.5h3M290.5,491v3M299,428.5h3M300.5,427v3M309,475.5h3M310.5,474v3M319,503.5h3M320.5,502v3M329,512.5h3M330.5,511v3M339,504.5h3M340.5,503v3M349,512.5h3M350.5,511v3M359,528.5h3M360.5,527v3M369,490.5h3M370.5,489v3M379,478.5h3M380.5,477v3M389,473.5h3M390.5,472v3M399,532.5h3M400.5,531v3M409,515.5h3M410.5,514v3M419,511.5h3M420.5,510v3M429,511.5h3M430.5,510v3M439,529.5h3M440.5,528v3M449,514.5h3M450.5,513v3M459,472.5h3M460.5,471v3M469,500.5h3M470.5,499v3M479,525.5h3M480.5,524v3M489,505.5h3M490.5,504v3M499,518.5h3M500.5,517v3M509,476.5h3M510.5,475v3M519,485.5h3M520.5,484v3M529,517.5h3M530.5,516v3M539,532.5h3M540.5,531v3M549,524.5h3M550.5,523v3M559,538.5h3M560.5,537v3M569,527.5h3M570.5,526v3M579,475.5h3M580.5,474v3M589,524.5h3M590.5,523v3M599,521.5h3M600.5,520v3M609,537.5h3M610.5,536v3M619,517.5h3M620.5,516v3M629,510.5h3M630.5,509v3M639,512.5h3M640.5,511v3M649,482.5h3M650.5,481v3M659,510.5h3M660.5,509v3M669,482.5h3M670.5,481v3M679,503.5h3M680.5,502v3M689,503.5h3M690.5,502v3"/>
<polyline stroke="#6A737B" points="50,540.5 60,502.8 70,500.6 80,534.5 90,541.0 100,493.8 110,500.6 120,538.7 130,539.5 140,510.7 150,513.5 160,534.8 170,533.0 180,500.3 190,510.4 200,537.6 210,529.7 220,509.9 230,516.0 240,522.4 250,519.4 260,512.5 270,523.0 280,516.9 290,484.8 300,474.6 310,507.0 320,500.3 330,530.9 340,484.6 350,525.4 360,527.1 370,517.1 380,496.2 390,490.1 400,522.3 410,521.7 420,509.0 430,519.3 440,526.4 450,522.6 460,477.8 470,518.1 480,524.7 490,505.6 500,497.1 510,500.8 520,527.1 530,532.3 540,510.3 550,508.8 560,539.1 570,526.7 580,507.9 590,511.4 600,531.9 610,535.9 620,501.8 630,470.8 640,517.6 650,487.6 660,503.3 670,517.5 680,519.8 690,514.4"/>
<path stroke="#6A737B" d="M49,540.5h3M50.5,539v3M59,503.5h3M60.5,502v3M69,501.5h3M70.5,500v3M79,535.5h3M80.5,534v3M89,541.5h3M90.5,540v3M99,494.5h3M100.5,493v3M109,501.5h3M110.5,500v3M119,539.5h3M120.5,538v3M129,540.5h3M130.5,539v3M139,511.5h3M140.5,510v3M149,513.5h3M150.5,512v3M159,535.5h3M160.5,534v3M169,533.5h3M170.5,532v3M179,500.5h3M180.5,499v3M189,510.5h3M190.5,509v3M199,538.5h3M200.5,537v3M209,530.5h3M210.5,529v3M219,510.5h3M220.5,509v3M229,516.5h3M230.5,515v3M239,522.5h3M240.5,521v3M249,519.5h3M250.5,518v3M259,512.5h3M260.5,511v3M269,523.5h3M270.5,522v3M279,517.5h3M280.5,516v3M289,485.5h3M290.5,484v3M299,475.5h3M300.5,474v3M309,507.5h3M310.5,506v3M319,500.5h3M320.5,499v3M329,531.5h3M330.5,530v3M339,485.5h3M340.5,484v3M349,525.5h3M350.5,524v3M359,527.5h3M360.5,526v3M369,517.5h3M370.5,516v3M379,496.5h3M380.5,495v3M389,490.5h3M390.5,489v3M399,522.5h3M400.5,521v3M409,522.5h3M410.5,521v3M419,509.5h3M420.5,508v3M429,519.5h3M430.5,518v3M439,526.5h3M440.5,525v3M449,523.5h3M450.5,522v3M459,478.5h3M460.5,477v3M469,518.5h3M470.5,517v3M479,525.5h3M480.5,524v3M489,506.5h3M490.5,505v3M499,497.5h3M500.5,496v3M509,501.5h3M510.5,500v3M519,527.5h3M520.5,526v3M529,532.5h3M530.5,531v3M539,510.5h3M540.5,509v3M549,509.5h3M550.5,508v3M559,539.5h3M560.5,538v3M569,527.5h3M570.5,526v3M579,508.5h3M580.5,507v3M589,511.5h3M590.5,510v3M599,532.5h3M600.5,531v3M609,536.5h3M610.5,535v3M619,502.5h3M620.5,501v3M629,471.5h3M630.5,470v3M639,518.5h3M640.5,517v3M649,488.5h3M650.5,487v3M659,503.5h3M660.5,502v3M669,518.5h3M670.5,517v3M679,520.5h3M680.5,519v3M689,514.5h3M690.5,513v3"/>
<polyline stroke="#DF73FF" points="50,540.7 60,505.3 70,509.2 80,537.9 90,541.4 100,500.1 110,506.1 120,538.0 130,535.6 140,510.9 150,513.1 160,537.1 170,536.3 180,500.6 190,518.1 200,541.7 210,532.7 220,506.3 230,508.1 240,511.9 250,514.7 260,484.2 270,503.0 280,475.0 290,434.4 300,387.1 310,397.6 320,415.5 330,440.0 340,478.5 350,506.5 360,536.1 370,538.4 380,472.0 390,497.4 400,517.0 410,519.5 420,472.1 430,497.3 440,521.1 450,503.0 460,468.7 470,454.7 480,488.3 490,511.8 500,484.2 510,476.4 520,485.5 530,477.1 540,468.0 550,457.9 560,481.3 570,483.4 580,450.9 590,489.0 600,513.5 610,516.7 620,480.7 630,501.6 640,508.7 650,482.8 660,487.5 670,500.3 680,528.7 690,505.9"/>
<path stroke="#DF73FF" d="M49,541.5h3M50.5,540v3M59,505.5h3M60.5,504v3M69,509.5h3M70.5,508v3M79,538.5h3M80.5,537v3M89,541.5h3M90.5,540v3M99,500.5h3M100.5,499v3M109,506.5h3M110.5,505v3M119,538.5h3M120.5,537v3M129,536.5h3M130.5,535v3M139,511.5h3M140.5,510v3M149,513.5h3M150.5,512v3M159,537.5h3M160.5,536v3M169,536.5h3M170.5,535v3M179,501.5h3M180.5,500v3M189,518.5h3M190.5,517v3M199,542.5h3M200.5,541v3M209,533.5h3M210.5,532v3M219,506.5h3M220.5,505v3M229,508.5h3M230.5,507v3M239,512.5h3M240.5,511v3M249,515.5h3M250.5,514v3M259,484.5h3M260.5,483v3M269,503.5h3M270.5,502v3M279,475.5h3M280.5,474v3M289,434.5h3M290.5,433v3M299,387.5h3M300.5,386v3M309,398.5h3M310.5,397v3M319,416.5h3M320.5,415v3M329,440.5h3M330.5,439v3M339,478.5h3M340.5,477v3M349,506.5h3M350.5,505v3M359,536.5h3M360.5,535v3M369,538.5h3M370.5,537v3M379,472.5h3M380.5,471v3M389,497.5h3M390.5,496v3M399,517.5h3M400.5,516v3M409,520.5h3M410.5,519v3M419,472.5h3M420.5,471v3M429,497.5h3M430.5,496v3M439,521.5h3M440.5,520v3M449,503.5h3M450.5,502v3M459,469.5h3M460.5,468v3M469,455.5h3M470.5,454v3M479,488.5h3M480.5,487v3M489,512.5h3M490.5,511v3M499,484.5h3M500.5,483v3M509,476.5h3M510.5,475v3M519,486.5h3M520.5,485v3M529,477.5h3M530.5,476v3M539,468.5h3M540.5,467v3M549,458.5h3M550.5,457v3M559,481.5h3M560.5,480v3M569,483.5h3M570.5,482v3M579,451.5h3M580.5,450v3M589,489.5h3M590.5,488v3M599,514.5h3M600.5,513v3M609,517.5h3M610.5,516v3M619,481.5h3M620.5,480v3M629,502.5h3M630.5,501v3M639,509.5h3M640.5,508v3M649,483.5h3M650.5,482v3M659,488.5h3M660.5,487v3M669,500.5h3M670.5,499v3M679,529.5h3M680.5,528v3M689,506.5h3M690.5,505v3"/>
<polyline stroke="#7B1FF2" points="50,540.7 60,503.4 70,504.8 80,538.9 90,540.0 100,503.6 110,513.2 120,537.4 130,536.1 140,512.1 150,508.1 160,538.8 170,535.1 180,501.4 190,516.7 200,532.8 210,531.5 220,490.0 230,520.6 240,528.8 250,533.8 260,499.5 270,496.0 280,433.4 290,408.1 300,451.9 310,482.0 320,503.0 330,496.0 340,445.2 350,499.5 360,522.3 370,520.1 380,501.7 390,523.2 400,528.1 410,520.4 420,484.6 430,524.1 440,540.3 450,523.1 460,529.4 470,524.0 480,521.6 490,517.8 500,496.8 510,473.5 520,496.4 530,528.0 540,491.4 550,511.7 560,528.3 570,539.7 580,510.5 590,513.8 600,521.5 610,517.0 620,462.8 630,492.5 640,507.2 650,517.8 660,511.0 670,502.6 680,498.8 690,501.6"/>
<path stroke="#7B1FF2" d="M49,541.5h3M50.5,540v3M59,503.5h3M60.5,502v3M69,505.5h3M70.5,504v3M79,539.5h3M80.5,538v3M89,540.5h3M90.5,539v3M99,504.5h3M100.5,503v3M109,513.5h3M110.5,512v3M119,537.5h3M120.5,536v3M129,536.5h3M130.5,535v3M139,512.5h3M140.5,511v3M149,508.5h3M150.5,507v3M159,539.5h3M160.5,538v3M169,535.5h3M170.5,534v3M179,501.5h3M180.5,500v3M189,517.5h3M190.5,516v3M199,533.5h3M200.5,532v3M209,531.5h3M210.5,530v3M219,490.5h3M220.5,489v3M229,521.5h3M230.5,520v3M239,529.5h3M240.5,528v3M249,534.5h3M250.5,533v3M259,500.5h3M260.5,499v3M269,496.5h3M270.5,495v3M279,433.5h3M280.5,432v3M289,408.5h3M290.5,407v3M299,452.5h3M300.5,451v3M309,482.5h3M310.5,481v3M319,503.5h3M320.5,502v3M329,496.5h3M330.5,495v3M339,445.5h3M340.5,444v3M349,500.5h3M350.5,499v3M359,522.5h3M360.5,521v3M369,520.5h3M370.5,519v3M379,502.5h3M380.5,501v3M389,523.5h3M390.5,522v3M399,528.5h3M400.5,527v3M409,520.5h3M410.5,519v3M419,485.5h3M420.5,484v3M429,524.5h3M430.5,523v3M439,540.5h3M440.5,539v3M449,523.5h3M450.5,522v3M459,529.5h3M460.5,528v3M469,524.5h3M470.5,523v3M479,522.5h3M480.5,521v3M489,518.5h3M490.5,517v3M499,497.5h3M500.5,496v3M509,473.5h3M510.5,472v3M519,496.5h3M520.5,495v3M529,528.5h3M530.5,527v3M539,491.5h3M540.5,490v3M549,512.5h3M550.5,511v3M559,528.5h3M560.5,527v3M569,540.5h3M570.5,539v3M579,510.5h3M580.5,509v3M589,514.5h3M590.5,513v3M599,521.5h3M600.5,520v3M609,517.5h3M610.5,516v3M619,463.5h3M620.5,462v3M629,492.5h3M630.5,491v3M639,507.5h3M640.5,506v3M649,518.5h3M650.5,517v3M659,511.5h3M660.5,510v3M669,503.5h3M670.5,502v3M679,499.5h3M680.5,498v3M689,502.5h3M690.5,501v3"/>
<polyline stroke="#7A5A2A" points="50,540.9 60,505.3 70,507.7 80,539.9 90,540.6 100,497.9 110,507.7 120,534.4 130,541.6 140,515.7 150,511.8 160,521.2 170,529.2 180,526.8 190,524.7 200,525.8 210,522.2 220,498.4 230,514.6 240,525.6 250,526.1 260,509.4 270,515.8 280,518.4 290,479.7 300,473.5 310,476.8 320,470.0 330,497.5 340,489.3 350,479.8 360,524.6 370,521.1 380,511.8 390,526.7 400,537.4 410,537.2 420,513.6 430,501.3 440,497.5 450,527.6 460,513.8 470,516.6 480,521.0 490,519.8 500,503.8 510,501.5 520,501.4 530,530.4 540,513.6 550,500.5 560,519.8 570,523.0 580,508.2 590,539.8 600,534.7 610,513.5 620,448.1 630,471.5 640,503.0 650,503.2 660,516.8 670,529.4 680,533.5 690,519.5"/>
<path stroke="#7A5A2A" d="M49,541.5h3M50.5,540v3M59,505.5h3M60.5,504v3M69,508.5h3M70.5,507v3M79,540.5h3M80.5,539v3M89,541.5h3M90.5,540v3M99,498.5h3M100.5,497v3M109,508.5h3M110.5,507v3M119,534.5h3M120.5,533v3M129,542.5h3M130.5,541v3M139,516.5h3M140.5,515v3M149,512.5h3M150.5,511v3M159,521.5h3M160.5,520v3M169,529.5h3M170.5,528v3M179,527.5h3M180.5,526v3M189,525.5h3M190.5,524v3M199,526.5h3M200.5,525v3M209,522.5h3M210.5,521v3M219,498.5h3M220.5,497v3M229,515.5h3M230.5,514v3M239,526.5h3M240.5,525v3M249,526.5h3M250.5,525v3M259,509.5h3M260.5,508v3M269,516.5h3M270.5,515v3M279,518.5h3M280.5,517v3M289,480.5h3M290.5,479v3M299,474.5h3M300.5,473v3M309,477.5h3M310.5,476v3M319,470.5h3M320.5,469v3M329,497.5h3M330.5,496v3M339,489.5h3M340.5,488v3M349,480.5h3M350.5,479v3M359,525.5h3M360.5,524v3M369,521.5h3M370.5,520v3M379,512.5h3M380.5,511v3M389,527.5h3M390.5,526v3M399,537.5h3M400.5,536v3M409,537.5h3M410.5,536v3M419,514.5h3M420.5,513v3M429,501.5h3M430.5,500v3M439,497.5h3M440.5,496v3M449,528.5h3M450.5,527v3M459,514.5h3M460.5,513v3M469,517.5h3M470.5,516v3M479,521.5h3M480.5,520v3M489,520.5h3M490.5,519v3M499,504.5h3M500.5,503v3M509,502.5h3M510.5,501v3M519,501.5h3M520.5,500v3M529,530.5h3M530.5,529v3M539,514.5h3M540.5,513v3M549,500.5h3M550.5,499v3M559,520.5h3M560.5,519v3M569,523.5h3M570.5,522v3M579,508.5h3M580.5,507v3M589,540.5h3M590.5,539v3M599,535.5h3M600.5,534v3M609,514.5h3M610.5,513v3M619,448.5h3M620.5,447v3M629,472.5h3M630.5,471v3M639,503.5h3M640.5,502v3M649,503.5h3M650.5,502v3M659,517.5h3M660.5,516v3M669,529.5h3M670.5,528v3M679,534.5h3M680.5,533v3M689,520.5h3M690.5,519v3"/>
<polyline stroke="#35096B" points="50,540.1 60,500.2 70,502.8 80,538.7 90,537.2 100,498.4 110,506.2 120,540.6 130,537.7 140,522.2 150,512.9 160,532.9 170,535.5 180,501.4 190,508.6 200,532.8 210,530.4 220,504.1 230,510.3 240,521.1 250,518.5 260,500.8 270,506.0 280,521.1 290,503.0 300,435.8 310,489.0 320,487.1 330,518.1 340,493.2 350,472.6 360,522.2 370,521.6 380,479.8 390,510.0 400,506.5 410,480.9 420,496.0 430,522.1 440,529.5 450,492.6 460,476.7 470,479.5 480,521.0 490,520.7 500,488.3 510,508.0 520,529.2 530,529.6 540,501.6 550,483.3 560,514.8 570,504.2 580,508.0 590,511.5 600,493.5 610,533.9 620,529.8 630,523.7 640,540.3 650,528.2 660,476.7 670,508.2 680,515.4 690,528.7"/>
<path stroke="#35096B" d="M49,540.5h3M50.5,539v3M59,500.5h3M60.5,499v3M69,503.5h3M70.5,502v3M79,539.5h3M80.5,538v3M89,537.5h3M90.5,536v3M99,498.5h3M100.5,497v3M109,506.5h3M110.5,505v3M119,541.5h3M120.5,540v3M129,538.5h3M130.5,537v3M139,522.5h3M140.5,521v3M149,513.5h3M150.5,512v3M159,533.5h3M160.5,532v3M169,536.5h3M170.5,535v3M179,501.5h3M180.5,500v3M189,509.5h3M190.5,508v3M199,533.5h3M200.5,532v3M209,530.5h3M210.5,529v3M219,504.5h3M220.5,503v3M229,510.5h3M230.5,509v3M239,521.5h3M240.5,520v3M249,519.5h3M250.5,518v3M259,501.5h3M260.5,500v3M269,506.5h3M270.5,505v3M279,521.5h3M280.5,520v3M289,503.5h3M290.5,502v3M299,436.5h3M300.5,435v3M309,489.5h3M310.5,488v3M319,487.5h3M320.5,486v3M329,518.5h3M330.5,517v3M339,493.5h3M340.5,492v3M349,473.5h3M350.5,472v3M359,522.5h3M360.5,521v3M369,522.5h3M370.5,521v3M379,480.5h3M380.5,479v3M389,510.5h3M390.5,509v3M399,506.5h3M400.5,505v3M409,481.5h3M410.5,480v3M419,496.5h3M420.5,495v3M429,522.5h3M430.5,521v3M439,530.5h3M440.5,529v3M449,493.5h3M450.5,492v3M459,477.5h3M460.5,476v3M469,479.5h3M470.5,478v3M479,521.5h3M480.5,520v3M489,521.5h3M490.5,520v3M499,488.5h3M500.5,487v3M509,508.5h3M510.5,507v3M519,529.5h3M520.5,528v3M529,530.5h3M530.5,529v3M539,502.5h3M540.5,501v3M549,483.5h3M550.5,482v3M559,515.5h3M560.5,514v3M569,504.5h3M570.5,503v3M579,508.5h3M580.5,507v3M589,511.5h3M590.5,510v3M599,494.5h3M600.5,493v3M609,534.5h3M610.5,533v3M619,530.5h3M620.5,529v3M629,524.5h3M630.5,523v3M639,540.5h3M640.5,539v3M649,528.5h3M650.5,527v3M659,477.5h3M660.5,476v3M669,508.5h3M670.5,507v3M679,515.5h3M680.5,514v3M689,529.5h3M690.5,528v3"/>
<polyline stroke="#F0D80A" points="50,540.6 60,502.6 70,503.8 80,538.1 90,537.1 100,501.0 110,506.3 120,539.9 130,538.0 140,513.7 150,508.6 160,541.0 170,536.0 180,500.7 190,498.5 200,530.7 210,529.2 220,500.0 230,506.5 240,525.4 250,514.9 260,487.6 270,496.8 280,500.3 290,487.7 300,524.2 310,498.9 320,537.0 330,496.0 340,451.9 350,499.5 360,527.5 370,526.1 380,498.9 390,502.8 400,531.4 410,515.3 420,496.6 430,507.1 440,531.0 450,491.3 460,495.5 470,475.8 480,484.9 490,479.8 500,485.5 510,466.2 520,484.4 530,503.8 540,482.0 550,464.9 560,482.0 570,482.0 580,460.6 590,484.4 600,513.5 610,485.2 620,479.4 630,471.6 640,496.5 650,508.0 660,506.3 670,504.5 680,512.5 690,506.2"/>
<path stroke="#F0D80A" d="M49,541.5h3M50.5,540v3M59,503.5h3M60.5,502v3M69,504.5h3M70.5,503v3M79,538.5h3M80.5,537v3M89,537.5h3M90.5,536v3M99,501.5h3M100.5,500v3M109,506.5h3M110.5,505v3M119,540.5h3M120.5,539v3M129,538.5h3M130.5,537v3M139,514.5h3M140.5,513v3M149,509.5h3M150.5,508v3M159,541.5h3M160.5,540v3M169,536.5h3M170.5,535v3M179,501.5h3M180.5,500v3M189,498.5h3M190.5,497v3M199,531.5h3M200.5,530v3M209,529.5h3M210.5,528v3M219,500.5h3M220.5,499v3M229,507.5h3M230.5,506v3M239,525.5h3M240.5,524v3M249,515.5h3M250.5,514v3M259,488.5h3M260.5,487v3M269,497.5h3M270.5,496v3M279,500.5h3M280.5,499v3M289,488.5h3M290.5,487v3M299,524.5h3M300.5,523v3M309,499.5h3M310.5,498v3M319,537.5h3M320.5,536v3M329,496.5h3M330.5,495v3M339,452.5h3M340.5,451v3M349,500.5h3M350.5,499v3M359,527.5h3M360.5,526v3M369,526.5h3M370.5,525v3M379,499.5h3M380.5,498v3M389,503.5h3M390.5,502v3M399,531.5h3M400.5,530v3M409,515.5h3M410.5,514v3M419,497.5h3M420.5,496v3M429,507.5h3M430.5,506v3M439,531.5h3M440.5,530v3M449,491.5h3M450.5,490v3M459,496.5h3M460.5,495v3M469,476.5h3M470.5,475v3M479,485.5h3M480.5,484v3M489,480.5h3M490.5,479v3M499,486.5h3M500.5,485v3M509,466.5h3M510.5,465v3M519,484.5h3M520.5,483v3M529,504.5h3M530.5,503v3M539,482.5h3M540.5,481v3M549,465.5h3M550.5,464v3M559,482.5h3M560.5,481v3M569,482.5h3M570.5,481v3M579,461.5h3M580.5,460v3M589,484.5h3M590.5,483v3M599,514.5h3M600.5,513v3M609,485.5h3M610.5,484v3M619,479.5h3M620.5,478v3M629,472.5h3M630.5,471v3M639,497.5h3M640.5,496v3M649,508.5h3M650.5,507v3M659,506.5h3M660.5,505v3M669,504.5h3M670.5,503v3M679,513.5h3M680.5,512v3M689,506.5h3M690.5,505v3"/>
<polyline stroke="#2868A0" points="50,540.4 60,503.1 70,505.0 80,535.7 90,538.7 100,498.9 110,503.0 120,536.2 130,536.4 140,504.9 150,507.0 160,538.4 170,533.7 180,489.1 190,515.5 200,534.0 210,533.5 220,484.2 230,502.8 240,511.1 250,510.1 260,485.4 270,514.1 280,538.3 290,525.4 300,507.1 310,513.8 320,521.8 330,516.1 340,475.7 350,503.5 360,536.2 370,532.6 380,534.1 390,540.1 400,533.9 410,537.8 420,517.5 430,524.0 440,541.1 450,524.6 460,494.8 470,532.8 480,539.7 490,531.8 500,519.6 510,520.3 520,523.4 530,519.4 540,519.0 550,519.3 560,519.1 570,508.6 580,513.5 590,503.0 600,465.9 610,452.9 620,438.6 630,427.0 640,438.9 650,372.1 660,353.2 670,390.6 680,446.6 690,418.3"/>
<path stroke="#2868A0" d="M49,540.5h3M50.5,539v3M59,503.5h3M60.5,502v3M69,505.5h3M70.5,504v3M79,536.5h3M80.5,535v3M89,539.5h3M90.5,538v3M99,499.5h3M100.5,498v3M109,503.5h3M110.5,502v3M119,536.5h3M120.5,535v3M129,536.5h3M130.5,535v3M139,505.5h3M140.5,504v3M149,507.5h3M150.5,506v3M159,538.5h3M160.5,537v3M169,534.5h3M170.5,533v3M179,489.5h3M180.5,488v3M189,515.5h3M190.5,514v3M199,534.5h3M200.5,533v3M209,533.5h3M210.5,532v3M219,484.5h3M220.5,483v3M229,503.5h3M230.5,502v3M239,511.5h3M240.5,510v3M249,510.5h3M250.5,509v3M259,485.5h3M260.5,484v3M269,514.5h3M270.5,513v3M279,538.5h3M280.5,537v3M289,525.5h3M290.5,524v3M299,507.5h3M300.5,506v3M309,514.5h3M310.5,513v3M319,522.5h3M320.5,521v3M329,516.5h3M330.5,515v3M339,476.5h3M340.5,475v3M349,504.5h3M350.5,503v3M359,536.5h3M360.5,535v3M369,533.5h3M370.5,532v3M379,534.5h3M380.5,533v3M389,540.5h3M390.5,539v3M399,534.5h3M400.5,533v3M409,538.5h3M410.5,537v3M419,517.5h3M420.5,516v3M429,524.5h3M430.5,523v3M439,541.5h3M440.5,540v3M449,525.5h3M450.5,524v3M459,495.5h3M460.5,494v3M469,533.5h3M470.5,532v3M479,540.5h3M480.5,539v3M489,532.5h3M490.5,531v3M499,520.5h3M500.5,519v3M509,520.5h3M510.5,519v3M519,523.5h3M520.5,522v3M529,519.5h3M530.5,518v3M539,519.5h3M540.5,518v3M549,519.5h3M550.5,518v3M559,519.5h3M560.5,518v3M569,509.5h3M570.5,508v3M579,514.5h3M580.5,513v3M589,503.5h3M590.5,502v3M599,466.5h3M600.5,465v3M609,453.5h3M610.5,452v3M619,439.5h3M620.5,438v3M629,427.5h3M630.5,426v3M639,439.5h3M640.5,438v3M649,372.5h3M650.5,371v3M659,353.5h3M660.5,352v3M669,391.5h3M670.5,390v3M679,447.5h3M680.5,446v3M689,418.5h3M690.5,417v3"/>
<polyline stroke="#905A20" points="50,542.0 60,508.8 70,504.2 80,538.8 90,537.0 100,502.7 110,506.7 120,538.3 130,540.7 140,514.9 150,507.2 160,539.3 170,541.7 180,496.6 190,507.7 200,524.7 210,525.2 220,485.9 230,505.0 240,510.8 250,508.4 260,486.2 270,504.2 280,502.9 290,486.3 300,470.8 310,485.8 320,504.0 330,529.3 340,475.9 350,478.1 360,509.9 370,508.6 380,519.8 390,520.4 400,534.6 410,526.5 420,494.0 430,511.7 440,535.0 450,536.3 460,507.9 470,517.8 480,522.7 490,528.7 500,510.9 510,504.8 520,530.2 530,514.4 540,509.7 550,488.8 560,505.7 570,499.6 580,520.2 590,506.5 600,521.9 610,536.9 620,509.5 630,523.5 640,506.5 650,490.8 660,478.5 670,468.0 680,477.8 690,459.6"/>
<path stroke="#905A20" d="M49,542.5h3M50.5,541v3M59,509.5h3M60.5,508v3M69,504.5h3M70.5,503v3M79,539.5h3M80.5,538v3M89,537.5h3M90.5,536v3M99,503.5h3M100.5,502v3M109,507.5h3M110.5,506v3M119,538.5h3M120.5,537v3M129,541.5h3M130.5,540v3M139,515.5h3M140.5,514v3M149,507.5h3M150.5,506v3M159,539.5h3M160.5,538v3M169,542.5h3M170.5,541v3M179,497.5h3M180.5,496v3M189,508.5h3M190.5,507v3M199,525.5h3M200.5,524v3M209,525.5h3M210.5,524v3M219,486.5h3M220.5,485v3M229,505.5h3M230.5,504v3M239,511.5h3M240.5,510v3M249,508.5h3M250.5,507v3M259,486.5h3M260.5,485v3M269,504.5h3M270.5,503v3M279,503.5h3M280.5,502v3M289,486.5h3M290.5,485v3M299,471.5h3M300.5,470v3M309,486.5h3M310.5,485v3M319,504.5h3M320.5,503v3M329,529.5h3M330.5,528v3M339,476.5h3M340.5,475v3M349,478.5h3M350.5,477v3M359,510.5h3M360.5,509v3M369,509.5h3M370.5,508v3M379,520.5h3M380.5,519v3M389,520.5h3M390.5,519v3M399,535.5h3M400.5,534v3M409,527.5h3M410.5,526v3M419,494.5h3M420.5,493v3M429,512.5h3M430.5,511v3M439,535.5h3M440.5,534v3M449,536.5h3M450.5,535v3M459,508.5h3M460.5,507v3M469,518.5h3M470.5,517v3M479,523.5h3M480.5,522v3M489,529.5h3M490.5,528v3M499,511.5h3M500.5,510v3M509,505.5h3M510.5,504v3M519,530.5h3M520.5,529v3M529,514.5h3M530.5,513v3M539,510.5h3M540.5,509v3M549,489.5h3M550.5,488v3M559,506.5h3M560.5,505v3M569,500.5h3M570.5,499v3M579,520.5h3M580.5,519v3M589,507.5h3M590.5,506v3M599,522.5h3M600.5,521v3M609,537.5h3M610.5,536v3M619,510.5h3M620.5,509v3M629,523.5h3M630.5,522v3M639,506.5h3M640.5,505v3M649,491.5h3M650.5,490v3M659,478.5h3M660.5,477v3M669,468.5h3M670.5,467v3M679,478.5h3M680.5,477v3M689,460.5h3M690.5,459v3"/>
<polyline stroke="#A08CE8" points="50,540.8 60,503.4 70,502.5 80,537.9 90,540.3 100,500.1 110,505.2 120,538.8 130,539.4 140,512.4 150,509.7 160,534.5 170,531.8 180,491.4 190,507.5 200,532.1 210,532.7 220,484.8 230,508.5 240,524.5 250,535.6 260,518.5 270,532.7 280,535.0 290,537.0 300,506.8 310,521.5 320,515.2 330,526.8 340,521.2 350,512.2 360,537.6 370,527.8 380,528.3 390,510.0 400,534.3 410,530.9 420,520.8 430,513.3 440,535.5 450,535.3 460,483.6 470,480.9 480,519.3 490,527.0 500,516.6 510,508.4 520,533.0 530,529.4 540,505.5 550,497.2 560,512.1 570,529.6 580,497.6 590,477.9 600,510.5 610,517.4 620,505.3 630,496.8 640,523.5 650,521.3 660,516.2 670,520.0 680,538.8 690,516.7"/>
<path stroke="#A08CE8" d="M49,541.5h3M50.5,540v3M59,503.5h3M60.5,502v3M69,503.5h3M70.5,502v3M79,538.5h3M80.5,537v3M89,540.5h3M90.5,539v3M99,500.5h3M100.5,499v3M109,505.5h3M110.5,504v3M119,539.5h3M120.5,538v3M129,539.5h3M130.5,538v3M139,512.5h3M140.5,511v3M149,510.5h3M150.5,509v3M159,535.5h3M160.5,534v3M169,532.5h3M170.5,531v3M179,491.5h3M180.5,490v3M189,507.5h3M190.5,506v3M199,532.5h3M200.5,531v3M209,533.5h3M210.5,532v3M219,485.5h3M220.5,484v3M229,508.5h3M230.5,507v3M239,525.5h3M240.5,524v3M249,536.5h3M250.5,535v3M259,519.5h3M260.5,518v3M269,533.5h3M270.5,532v3M279,535.5h3M280.5,534v3M289,537.5h3M290.5,536v3M299,507.5h3M300.5,506v3M309,522.5h3M310.5,521v3M319,515.5h3M320.5,514v3M329,527.5h3M330.5,526v3M339,521.5h3M340.5,520v3M349,512.5h3M350.5,511v3M359,538.5h3M360.5,537v3M369,528.5h3M370.5,527v3M379,528.5h3M380.5,527v3M389,510.5h3M390.5,509v3M399,534.5h3M400.5,533v3M409,531.5h3M410.5,530v3M419,521.5h3M420.5,520v3M429,513.5h3M430.5,512v3M439,535.5h3M440.5,534v3M449,535.5h3M450.5,534v3M459,484.5h3M460.5,483v3M469,481.5h3M470.5,480v3M479,519.5h3M480.5,518v3M489,527.5h3M490.5,526v3M499,517.5h3M500.5,516v3M509,508.5h3M510.5,507v3M519,533.5h3M520.5,532v3M529,529.5h3M530.5,528v3M539,505.5h3M540.5,504v3M549,497.5h3M550.5,496v3M559,512.5h3M560.5,511v3M569,530.5h3M570.5,529v3M579,498.5h3M580.5,497v3M589,478.5h3M590.5,477v3M599,511.5h3M600.5,510v3M609,517.5h3M610.5,516v3M619,505.5h3M620.5,504v3M629,497.5h3M630.5,496v3M639,523.5h3M640.5,522v3M649,521.5h3M650.5,520v3M659,516.5h3M660.5,515v3M669,520.5h3M670.5,519v3M679,539.5h3M680.5,538v3M689,517.5h3M690.5,516v3"/>
<polyline stroke="#9EF03C" points="50,541.5 60,504.8 70,501.7 80,532.6 90,538.5 100,501.9 110,504.4 120,538.1 130,533.4 140,504.1 150,499.5 160,535.6 170,535.8 180,507.0 190,513.2 200,532.1 210,533.5 220,493.7 230,510.0 240,526.5 250,518.3 260,517.3 270,515.7 280,524.0 290,517.0 300,387.5 310,337.8 320,391.4 330,457.1 340,450.1 350,460.6 360,508.2 370,524.0 380,502.2 390,502.8 400,534.1 410,534.9 420,531.4 430,516.6 440,519.6 450,521.6 460,480.5 470,488.1 480,531.1 490,530.7 500,521.6 510,513.9 520,502.2 530,514.8 540,509.5 550,510.6 560,524.7 570,527.9 580,518.5 590,475.6 600,520.5 610,510.0 620,443.5 630,446.6 640,486.6 650,462.8 660,433.0 670,437.9 680,462.8 690,436.5"/>
<path stroke="#9EF03C" d="M49,541.5h3M50.5,540v3M59,505.5h3M60.5,504v3M69,502.5h3M70.5,501v3M79,533.5h3M80.5,532v3M89,539.5h3M90.5,538v3M99,502.5h3M100.5,501v3M109,504.5h3M110.5,503v3M119,538.5h3M120.5,537v3M129,533.5h3M130.5,532v3M139,504.5h3M140.5,503v3M149,500.5h3M150.5,499v3M159,536.5h3M160.5,535v3M169,536.5h3M170.5,535v3M179,507.5h3M180.5,506v3M189,513.5h3M190.5,512v3M199,532.5h3M200.5,531v3M209,533.5h3M210.5,532v3M219,494.5h3M220.5,493v3M229,510.5h3M230.5,509v3M239,526.5h3M240.5,525v3M249,518.5h3M250.5,517v3M259,517.5h3M260.5,516v3M269,516.5h3M270.5,515v3M279,524.5h3M280.5,523v3M289,517.5h3M290.5,516v3M299,388.5h3M300.5,387v3M309,338.5h3M310.5,337v3M319,391.5h3M320.5,390v3M329,457.5h3M330.5,456v3M339,450.5h3M340.5,449v3M349,461.5h3M350.5,460v3M359,508.5h3M360.5,507v3M369,524.5h3M370.5,523v3M379,502.5h3M380.5,501v3M389,503.5h3M390.5,502v3M399,534.5h3M400.5,533v3M409,535.5h3M410.5,534v3M419,531.5h3M420.5,530v3M429,517.5h3M430.5,516v3M439,520.5h3M440.5,519v3M449,522.5h3M450.5,521v3M459,480.5h3M460.5,479v3M469,488.5h3M470.5,487v3M479,531.5h3M480.5,530v3M489,531.5h3M490.5,530v3M499,522.5h3M500.5,521v3M509,514.5h3M510.5,513v3M519,502.5h3M520.5,501v3M529,515.5h3M530.5,514v3M539,510.5h3M540.5,509v3M549,511.5h3M550.5,510v3M559,525.5h3M560.5,524v3M569,528.5h3M570.5,527v3M579,518.5h3M580.5,517v3M589,476.5h3M590.5,475v3M599,520.5h3M600.5,519v3M609,510.5h3M610.5,509v3M619,444.5h3M620.5,443v3M629,447.5h3M630.5,446v3M639,487.5h3M640.5,486v3M649,463.5h3M650.5,462v3M659,433.5h3M660.5,432v3M669,438.5h3M670.5,437v3M679,463.5h3M680.5,462v3M689,436.5h3M690.5,435v3"/>
<polyline stroke="#D070D0" points="50,540.6 60,504.6 70,504.5 80,536.9 90,536.6 100,496.0 110,500.1 120,535.8 130,535.4 140,511.5 150,513.7 160,532.1 170,536.8 180,510.8 190,525.4 200,541.8 210,531.4 220,506.7 230,518.4 240,506.5 250,486.6 260,485.5 270,487.2 280,496.0 290,484.5 300,479.6 310,519.1 320,525.0 330,522.5 340,510.0 350,507.8 360,527.6 370,534.5 380,521.1 390,513.6 400,535.9 410,536.5 420,516.2 430,480.0 440,523.6 450,520.7 460,481.1 470,510.3 480,511.1 490,486.3 500,476.1 510,476.6 520,510.6 530,497.0 540,470.7 550,491.3 560,522.5 570,506.7 580,519.9 590,525.5 600,530.3 610,527.3 620,536.0 630,530.0 640,526.7 650,528.5 660,494.6 670,498.3 680,528.3 690,532.2"/>
<path stroke="#D070D0" d="M49,541.5h3M50.5,540v3M59,505.5h3M60.5,504v3M69,505.5h3M70.5,504v3M79,537.5h3M80.5,536v3M89,537.5h3M90.5,536v3M99,496.5h3M100.5,495v3M109,500.5h3M110.5,499v3M119,536.5h3M120.5,535v3M129,535.5h3M130.5,534v3M139,511.5h3M140.5,510v3M149,514.5h3M150.5,513v3M159,532.5h3M160.5,531v3M169,537.5h3M170.5,536v3M179,511.5h3M180.5,510v3M189,525.5h3M190.5,524v3M199,542.5h3M200.5,541v3M209,531.5h3M210.5,530v3M219,507.5h3M220.5,506v3M229,518.5h3M230.5,517v3M239,506.5h3M240.5,505v3M249,487.5h3M250.5,486v3M259,486.5h3M260.5,485v3M269,487.5h3M270.5,486v3M279,496.5h3M280.5,495v3M289,485.5h3M290.5,484v3M299,480.5h3M300.5,479v3M309,519.5h3M310.5,518v3M319,525.5h3M320.5,524v3M329,523.5h3M330.5,522v3M339,510.5h3M340.5,509v3M349,508.5h3M350.5,507v3M359,528.5h3M360.5,527v3M369,534.5h3M370.5,533v3M379,521.5h3M380.5,520v3M389,514.5h3M390.5,513v3M399,536.5h3M400.5,535v3M409,536.5h3M410.5,535v3M419,516.5h3M420.5,515v3M429,480.5h3M430.5,479v3M439,524.5h3M440.5,523v3M449,521.5h3M450.5,520v3M459,481.5h3M460.5,480v3M469,510.5h3M470.5,509v3M479,511.5h3M480.5,510v3M489,486.5h3M490.5,485v3M499,476.5h3M500.5,475v3M509,477.5h3M510.5,476v3M519,511.5h3M520.5,510v3M529,497.5h3M530.5,496v3M539,471.5h3M540.5,470v3M549,491.5h3M550.5,490v3M559,523.5h3M560.5,522v3M569,507.5h3M570.5,506v3M579,520.5h3M580.5,519v3M589,525.5h3M590.5,524v3M599,530.5h3M600.5,529v3M609,527.5h3M610.5,526v3M619,536.5h3M620.5,535v3M629,530.5h3M630.5,529v3M639,527.5h3M640.5,526v3M649,528.5h3M650.5,527v3M659,495.5h3M660.5,494v3M669,498.5h3M670.5,497v3M679,528.5h3M680.5,527v3M689,532.5h3M690.5,531v3"/>
<polyline stroke="#1C0C9C" points="50,540.9 60,505.3 70,503.6 80,538.5 90,542.2 100,500.7 110,501.5 120,537.5 130,534.6 140,511.0 150,506.2 160,537.5 170,534.6 180,497.1 190,505.6 200,532.7 210,536.5 220,495.9 230,533.4 240,529.8 250,539.1 260,499.9 270,512.1 280,509.0 290,503.0 300,457.5 310,400.1 320,445.6 330,473.9 340,487.9 350,489.0 360,525.4 370,525.6 380,522.8 390,530.0 400,538.1 410,510.0 420,446.3 430,467.3 440,510.0 450,507.4 460,480.4 470,496.9 480,526.6 490,536.1 500,520.8 510,502.1 520,533.0 530,528.8 540,518.8 550,525.6 560,516.2 570,528.1 580,486.3 590,504.6 600,534.9 610,533.6 620,520.6 630,519.5 640,501.3 650,495.0 660,481.7 670,470.5 680,519.6 690,508.7"/>
<path stroke="#1C0C9C" d="M49,541.5h3M50.5,540v3M59,505.5h3M60.5,504v3M69,504.5h3M70.5,503v3M79,538.5h3M80.5,537v3M89,542.5h3M90.5,541v3M99,501.5h3M100.5,500v3M109,502.5h3M110.5,501v3M119,537.5h3M120.5,536v3M129,535.5h3M130.5,534v3M139,511.5h3M140.5,510v3M149,506.5h3M150.5,505v3M159,537.5h3M160.5,536v3M169,535.5h3M170.5,534v3M179,497.5h3M180.5,496v3M189,506.5h3M190.5,505v3M199,533.5h3M200.5,532v3M209,537.5h3M210.5,536v3M219,496.5h3M220.5,495v3M229,533.5h3M230.5,532v3M239,530.5h3M240.5,529v3M249,539.5h3M250.5,538v3M259,500.5h3M260.5,499v3M269,512.5h3M270.5,511v3M279,509.5h3M280.5,508v3M289,503.5h3M290.5,502v3M299,458.5h3M300.5,457v3M309,400.5h3M310.5,399v3M319,446.5h3M320.5,445v3M329,474.5h3M330.5,473v3M339,488.5h3M340.5,487v3M349,489.5h3M350.5,488v3M359,525.5h3M360.5,524v3M369,526.5h3M370.5,525v3M379,523.5h3M380.5,522v3M389,530.5h3M390.5,529v3M399,538.5h3M400.5,537v3M409,510.5h3M410.5,509v3M419,446.5h3M420.5,445v3M429,467.5h3M430.5,466v3M439,510.5h3M440.5,509v3M449,507.5h3M450.5,506v3M459,480.5h3M460.5,479v3M469,497.5h3M470.5,496v3M479,527.5h3M480.5,526v3M489,536.5h3M490.5,535v3M499,521.5h3M500.5,520v3M509,502.5h3M510.5,501v3M519,533.5h3M520.5,532v3M529,529.5h3M530.5,528v3M539,519.5h3M540.5,518v3M549,526.5h3M550.5,525v3M559,516.5h3M560.5,515v3M569,528.5h3M570.5,527v3M579,486.5h3M580.5,485v3M589,505.5h3M590.5,504v3M599,535.5h3M600.5,534v3M609,534.5h3M610.5,533v3M619,521.5h3M620.5,520v3M629,519.5h3M630.5,518v3M639,501.5h3M640.5,500v3M649,495.5h3M650.5,494v3M659,482.5h3M660.5,481v3M669,471.5h3M670.5,470v3M679,520.5h3M680.5,519v3M689,509.5h3M690.5,508v3"/>
<polyline stroke="#E0C8A0" points="50,541.0 60,502.1 70,506.1 80,537.9 90,538.3 100,496.3 110,502.5 120,537.7 130,539.8 140,513.9 150,517.1 160,537.3 170,535.6 180,504.7 190,509.6 200,535.1 210,530.6 220,495.5 230,515.6 240,519.0 250,522.6 260,490.9 270,525.1 280,530.0 290,517.3 300,482.2 310,506.5 320,519.2 330,526.4 340,524.3 350,532.2 360,528.7 370,494.9 380,497.3 390,495.4 400,533.6 410,536.9 420,514.7 430,525.6 440,528.6 450,528.0 460,484.4 470,470.5 480,498.5 490,508.8 500,473.5 510,477.5 520,481.9 530,508.6 540,492.4 550,489.8 560,504.1 570,522.9 580,515.0 590,517.3 600,519.1 610,520.8 620,501.8 630,499.2 640,519.4 650,505.8 660,525.0 670,496.0 680,482.0 690,475.0"/>
<path stroke="#E0C8A0" d="M49,541.5h3M50.5,540v3M59,502.5h3M60.5,501v3M69,506.5h3M70.5,505v3M79,538.5h3M80.5,537v3M89,538.5h3M90.5,537v3M99,496.5h3M100.5,495v3M109,502.5h3M110.5,501v3M119,538.5h3M120.5,537v3M129,540.5h3M130.5,539v3M139,514.5h3M140.5,513v3M149,517.5h3M150.5,516v3M159,537.5h3M160.5,536v3M169,536.5h3M170.5,535v3M179,505.5h3M180.5,504v3M189,510.5h3M190.5,509v3M199,535.5h3M200.5,534v3M209,531.5h3M210.5,530v3M219,496.5h3M220.5,495v3M229,516.5h3M230.5,515v3M239,519.5h3M240.5,518v3M249,523.5h3M250.5,522v3M259,491.5h3M260.5,490v3M269,525.5h3M270.5,524v3M279,530.5h3M280.5,529v3M289,517.5h3M290.5,516v3M299,482.5h3M300.5,481v3M309,507.5h3M310.5,506v3M319,519.5h3M320.5,518v3M329,526.5h3M330.5,525v3M339,524.5h3M340.5,523v3M349,532.5h3M350.5,531v3M359,529.5h3M360.5,528v3M369,495.5h3M370.5,494v3M379,497.5h3M380.5,496v3M389,495.5h3M390.5,494v3M399,534.5h3M400.5,533v3M409,537.5h3M410.5,536v3M419,515.5h3M420.5,514v3M429,526.5h3M430.5,525v3M439,529.5h3M440.5,528v3M449,528.5h3M450.5,527v3M459,484.5h3M460.5,483v3M469,471.5h3M470.5,470v3M479,498.5h3M480.5,497v3M489,509.5h3M490.5,508v3M499,474.5h3M500.5,473v3M509,478.5h3M510.5,477v3M519,482.5h3M520.5,481v3M529,509.5h3M530.5,508v3M539,492.5h3M540.5,491v3M549,490.5h3M550.5,489v3M559,504.5h3M560.5,503v3M569,523.5h3M570.5,522v3M579,515.5h3M580.5,514v3M589,517.5h3M590.5,516v3M599,519.5h3M600.5,518v3M609,521.5h3M610.5,520v3M619,502.5h3M620.5,501v3M629,499.5h3M630.5,498v3M639,519.5h3M640.5,518v3M649,506.5h3M650.5,505v3M659,525.5h3M660.5,524v3M669,496.5h3M670.5,495v3M679,482.5h3M680.5,481v3M689,475.5h3M690.5,474v3"/>
<polyline stroke="#8C0A10" points="50,541.1 60,504.5 70,507.1 80,538.5 90,541.2 100,503.1 110,499.7 120,535.9 130,536.2 140,513.9 150,508.0 160,532.8 170,533.3 180,487.6 190,513.1 200,532.8 210,538.4 220,489.2 230,501.4 240,516.8 250,499.5 260,479.9 270,501.6 280,513.0 290,505.4 300,483.7 310,501.7 320,506.0 330,526.9 340,513.5 350,535.8 360,532.6 370,532.2 380,505.7 390,510.6 400,521.8 410,521.8 420,497.9 430,494.4 440,524.9 450,522.7 460,510.1 470,518.4 480,516.2 490,503.0 500,463.4 510,496.0 520,495.8 530,497.4 540,496.8 550,478.0 560,523.3 570,514.4 580,485.9 590,485.4 600,514.1 610,503.2 620,487.5 630,477.1 640,522.0 650,532.4 660,503.4 670,517.8 680,519.6 690,524.5"/>
<path stroke="#8C0A10" d="M49,541.5h3M50.5,540v3M59,505.5h3M60.5,504v3M69,507.5h3M70.5,506v3M79,538.5h3M80.5,537v3M89,541.5h3M90.5,540v3M99,503.5h3M100.5,502v3M109,500.5h3M110.5,499v3M119,536.5h3M120.5,535v3M129,536.5h3M130.5,535v3M139,514.5h3M140.5,513v3M149,508.5h3M150.5,507v3M159,533.5h3M160.5,532v3M169,533.5h3M170.5,532v3M179,488.5h3M180.5,487v3M189,513.5h3M190.5,512v3M199,533.5h3M200.5,532v3M209,538.5h3M210.5,537v3M219,489.5h3M220.5,488v3M229,501.5h3M230.5,500v3M239,517.5h3M240.5,516v3M249,500.5h3M250.5,499v3M259,480.5h3M260.5,479v3M269,502.5h3M270.5,501v3M279,513.5h3M280.5,512v3M289,505.5h3M290.5,504v3M299,484.5h3M300.5,483v3M309,502.5h3M310.5,501v3M319,506.5h3M320.5,505v3M329,527.5h3M330.5,526v3M339,514.5h3M340.5,513v3M349,536.5h3M350.5,535v3M359,533.5h3M360.5,532v3M369,532.5h3M370.5,531v3M379,506.5h3M380.5,505v3M389,511.5h3M390.5,510v3M399,522.5h3M400.5,521v3M409,522.5h3M410.5,521v3M419,498.5h3M420.5,497v3M429,494.5h3M430.5,493v3M439,525.5h3M440.5,524v3M449,523.5h3M450.5,522v3M459,510.5h3M460.5,509v3M469,518.5h3M470.5,517v3M479,516.5h3M480.5,515v3M489,503.5h3M490.5,502v3M499,463.5h3M500.5,462v3M509,496.5h3M510.5,495v3M519,496.5h3M520.5,495v3M529,497.5h3M530.5,496v3M539,497.5h3M540.5,496v3M549,478.5h3M550.5,477v3M559,523.5h3M560.5,522v3M569,514.5h3M570.5,513v3M579,486.5h3M580.5,485v3M589,485.5h3M590.5,484v3M599,514.5h3M600.5,513v3M609,503.5h3M610.5,502v3M619,487.5h3M620.5,486v3M629,477.5h3M630.5,476v3M639,522.5h3M640.5,521v3M649,532.5h3M650.5,531v3M659,503.5h3M660.5,502v3M669,518.5h3M670.5,517v3M679,520.5h3M680.5,519v3M689,525.5h3M690.5,524v3"/>
<polyline stroke="#0A30B8" points="50,540.4 60,504.4 70,505.4 80,539.5 90,540.0 100,494.7 110,503.2 120,535.6 130,539.2 140,508.9 150,501.3 160,535.0 170,537.6 180,489.7 190,505.4 200,532.8 210,530.4 220,489.0 230,522.1 240,528.7 250,537.1 260,522.4 270,521.1 280,526.8 290,526.0 300,511.4 310,483.8 320,509.9 330,536.9 340,523.7 350,520.8 360,540.5 370,540.1 380,530.0 390,497.5 400,500.9 410,518.3 420,505.6 430,496.0 440,515.1 450,513.3 460,472.7 470,509.2 480,506.7 490,506.2 500,506.0 510,527.1 520,535.5 530,510.8 540,512.0 550,524.7 560,542.3 570,533.6 580,520.9 590,523.0 600,536.2 610,511.6 620,506.8 630,496.0 640,472.6 650,474.6 660,463.1 670,473.6 680,503.0 690,485.5"/>
<path stroke="#0A30B8" d="M49,540.5h3M50.5,539v3M59,504.5h3M60.5,503v3M69,505.5h3M70.5,504v3M79,539.5h3M80.5,538v3M89,540.5h3M90.5,539v3M99,495.5h3M100.5,494v3M109,503.5h3M110.5,502v3M119,536.5h3M120.5,535v3M129,539.5h3M130.5,538v3M139,509.5h3M140.5,508v3M149,501.5h3M150.5,500v3M159,535.5h3M160.5,534v3M169,538.5h3M170.5,537v3M179,490.5h3M180.5,489v3M189,505.5h3M190.5,504v3M199,533.5h3M200.5,532v3M209,530.5h3M210.5,529v3M219,489.5h3M220.5,488v3M229,522.5h3M230.5,521v3M239,529.5h3M240.5,528v3M249,537.5h3M250.5,536v3M259,522.5h3M260.5,521v3M269,521.5h3M270.5,520v3M279,527.5h3M280.5,526v3M289,526.5h3M290.5,525v3M299,511.5h3M300.5,510v3M309,484.5h3M310.5,483v3M319,510.5h3M320.5,509v3M329,537.5h3M330.5,536v3M339,524.5h3M340.5,523v3M349,521.5h3M350.5,520v3M359,540.5h3M360.5,539v3M369,540.5h3M370.5,539v3M379,530.5h3M380.5,529v3M389,497.5h3M390.5,496v3M399,501.5h3M400.5,500v3M409,518.5h3M410.5,517v3M419,506.5h3M420.5,505v3M429,496.5h3M430.5,495v3M439,515.5h3M440.5,514v3M449,513.5h3M450.5,512v3M459,473.5h3M460.5,472v3M469,509.5h3M470.5,508v3M479,507.5h3M480.5,506v3M489,506.5h3M490.5,505v3M499,506.5h3M500.5,505v3M509,527.5h3M510.5,526v3M519,536.5h3M520.5,535v3M529,511.5h3M530.5,510v3M539,512.5h3M540.5,511v3M549,525.5h3M550.5,524v3M559,542.5h3M560.5,541v3M569,534.5h3M570.5,533v3M579,521.5h3M580.5,520v3M589,523.5h3M590.5,522v3M599,536.5h3M600.5,535v3M609,512.5h3M610.5,511v3M619,507.5h3M620.5,506v3M629,496.5h3M630.5,495v3M639,473.5h3M640.5,472v3M649,475.5h3M650.5,474v3M659,463.5h3M660.5,462v3M669,474.5h3M670.5,473v3M679,503.5h3M680.5,502v3M689,486.5h3M690.5,485v3"/>
</g>
<g fill="none" stroke-linejoin="round">
<polyline stroke="#ff0000" stroke-width="2.8" points="50,540.8 60,504.1 70,504.8 80,537.0 90,539.0 100,500.2 110,505.1 120,537.3 130,537.6 140,512.5 150,508.6 160,536.2 170,537.0 180,501.6 190,511.1 200,531.7 210,530.3 220,498.8 230,512.1 240,519.8 250,519.1 260,497.1 270,507.6 280,519.1 290,510.4 300,483.1 310,484.8 320,499.9 330,507.6 340,498.1 350,498.8 360,524.4 370,519.8 380,499.9 390,504.1 400,523.3 410,519.1 420,491.8 430,498.8 440,520.9 450,516.3 460,494.6 470,496.0 480,513.9 490,508.6 500,492.9 510,497.1 520,515.6 530,516.3 540,500.6 550,497.1 560,518.0 570,516.3 580,496.0 590,499.9 600,517.4 610,515.6 620,491.1 630,494.6 640,515.6 650,507.6 660,492.9 670,492.9 680,512.1 690,505.1"/>
</g>
<g shape-rendering="crispEdges">
<polygon fill="#0000ff" points="50,562 53,564 54,573 53,584 50,599 39,576 44,568"/>
<polygon fill="#0000ff" points="90,562 94,566 95,575 92,588 73,581 86,566"/>
<polygon fill="#0000ff" points="116,551 134,564 131,569 121,569 106,566"/>
<polygon fill="#0000ff" points="164,563 175,560 188,564 181,574 170,574 166,568"/>
<polygon fill="#0000ff" points="205,564 209,558 220,558 231,564 217,569 211,575 209,571"/>
<polygon fill="#0000ff" points="241,555 249,550 265,550 259,562 252,567 247,566 244,561"/>
<polygon fill="#0000ff" points="276,551 291,551 295,560 294,566 289,568 275,565"/>
<polygon fill="#0000ff" points="309,544 333,558 336,563 333,567 327,567 321,562"/>
<polygon fill="#0000ff" points="370,550 381,555 386,564 376,568 369,567 366,563 364,558"/>
<polygon fill="#0000ff" points="405,562 409,553 414,551 428,547 420,564 412,568 407,567"/>
<polygon fill="#0000ff" points="443,562 450,549 466,549 455,565 451,568 446,567"/>
<polygon fill="#0000ff" points="484,557 489,547 505,550 495,563 492,568 487,567 484,563"/>
<polygon fill="#0000ff" points="520,564 527,561 529,549 543,552 540,564 531,568 527,566"/>
<polygon fill="#0000ff" points="563,565 569,550 584,551 578,562 573,569 567,567"/>
<polygon fill="#0000ff" points="599,554 610,553 618,558 620,565 616,568 610,570 606,567"/>
<polygon fill="#0000ff" points="638,553 650,555 662,554 655,565 650,570 646,568 641,564"/>
<polygon fill="#0000ff" points="680,555 690,556 702,553 699,563 696,568 690,570 686,566"/>
</g>
<g stroke="#000" stroke-width="1" fill="none">
<path d="M35.5,565.5h30M50.5,550.5v30M39.5,554.5l22,22M39.5,576.5l22,-22M75.5,565.5h30M90.5,550.5v30M79.5,554.5l22,22M79.5,576.5l22,-22M115.5,565.5h30M130.5,550.5v30M119.5,554.5l22,22M119.5,576.5l22,-22M155.5,565.5h30M170.5,550.5v30M159.5,554.5l22,22M159.5,576.5l22,-22M195.5,565.5h30M210.5,550.5v30M199.5,554.5l22,22M199.5,576.5l22,-22M235.5,565.5h30M250.5,550.5v30M239.5,554.5l22,22M239.5,576.5l22,-22M275.5,565.5h30M290.5,550.5v30M279.5,554.5l22,22M279.5,576.5l22,-22M315.5,565.5h30M330.5,550.5v30M319.5,554.5l22,22M319.5,576.5l22,-22M355.5,565.5h30M370.5,550.5v30M359.5,554.5l22,22M359.5,576.5l22,-22M395.5,565.5h30M410.5,550.5v30M399.5,554.5l22,22M399.5,576.5l22,-22M435.5,565.5h30M450.5,550.5v30M439.5,554.5l22,22M439.5,576.5l22,-22M475.5,565.5h30M490.5,550.5v30M479.5,554.5l22,22M479.5,576.5l22,-22M515.5,565.5h30M530.5,550.5v30M519.5,554.5l22,22M519.5,576.5l22,-22M555.5,565.5h30M570.5,550.5v30M559.5,554.5l22,22M559.5,576.5l22,-22M595.5,565.5h30M610.5,550.5v30M599.5,554.5l22,22M599.5,576.5l22,-22M635.5,565.5h30M650.5,550.5v30M639.5,554.5l22,22M639.5,576.5l22,-22M675.5,565.5h30M690.5,550.5v30M679.5,554.5l22,22M679.5,576.5l22,-22"/>
</g>
<g fill="#000">
<circle cx="50.5" cy="565.5" r="1.6"/>
<circle cx="90.5" cy="565.5" r="1.6"/>
<circle cx="130.5" cy="565.5" r="1.6"/>
<circle cx="170.5" cy="565.5" r="1.6"/>
<circle cx="210.5" cy="565.5" r="1.6"/>
<circle cx="250.5" cy="565.5" r="1.6"/>
<circle cx="290.5" cy="565.5" r="1.6"/>
<circle cx="330.5" cy="565.5" r="1.6"/>
<circle cx="370.5" cy="565.5" r="1.6"/>
<circle cx="410.5" cy="565.5" r="1.6"/>
<circle cx="450.5" cy="565.5" r="1.6"/>
<circle cx="490.5" cy="565.5" r="1.6"/>
<circle cx="530.5" cy="565.5" r="1.6"/>
<circle cx="570.5" cy="565.5" r="1.6"/>
<circle cx="610.5" cy="565.5" r="1.6"/>
<circle cx="650.5" cy="565.5" r="1.6"/>
<circle cx="690.5" cy="565.5" r="1.6"/>
</g>
<g font-family="'Liberation Mono','DejaVu Sans Mono',monospace" font-size="10.6px" letter-spacing="-0.36px" fill="#000" stroke="#000" stroke-width="0.18" opacity="0.99">
<text x="20" y="551.5">0</text>
<text x="710" y="551.5">0</text>
<text x="20" y="516.5">10</text>
<text x="710" y="516.5">10</text>
<text x="20" y="481.5">20</text>
<text x="710" y="481.5">20</text>
<text x="20" y="446.5">30</text>
<text x="710" y="446.5">30</text>
<text x="20" y="411.5">40</text>
<text x="710" y="411.5">40</text>
<text x="20" y="376.5">50</text>
<text x="710" y="376.5">50</text>
<text x="20" y="341.5">60</text>
<text x="710" y="341.5">60</text>
<text x="20" y="306.5">70</text>
<text x="710" y="306.5">70</text>
<text x="20" y="271.5">80</text>
<text x="710" y="271.5">80</text>
<text x="20" y="236.5">90</text>
<text x="710" y="236.5">90</text>
<text x="20" y="201.5">100</text>
<text x="710" y="201.5">100</text>
<text x="20" y="166.5">110</text>
<text x="710" y="166.5">110</text>
<text x="20" y="131.5">120</text>
<text x="710" y="131.5">120</text>
<text x="20" y="96.5">130</text>
<text x="710" y="96.5">130</text>
<text x="20" y="61.5">140</text>
<text x="710" y="61.5">140</text>
<text x="20" y="26.5">150</text>
<text x="710" y="26.5">150</text>
<text x="20" y="611">(km/h)</text>
<text x="710" y="611">(km/h)</text>
<text x="60" y="492">Vent moyen 10m</text>
<text transform="translate(91,632) rotate(-90)">19/04</text>
<text transform="translate(131,632) rotate(-90)">20/04</text>
<text transform="translate(171,632) rotate(-90)">21/04</text>
<text transform="translate(211,632) rotate(-90)">22/04</text>
<text transform="translate(251,632) rotate(-90)">23/04</text>
<text transform="translate(291,632) rotate(-90)">24/04</text>
<text transform="translate(331,632) rotate(-90)">25/04</text>
<text transform="translate(371,632) rotate(-90)">26/04</text>
<text transform="translate(411,632) rotate(-90)">27/04</text>
<text transform="translate(451,632) rotate(-90)">28/04</text>
<text transform="translate(491,632) rotate(-90)">29/04</text>
<text transform="translate(531,632) rotate(-90)">30/04</text>
<text transform="translate(571,632) rotate(-90)">01/05</text>
<text transform="translate(611,632) rotate(-90)">02/05</text>
<text transform="translate(651,632) rotate(-90)">03/05</text>
<text transform="translate(691,632) rotate(-90)">04/05</text>
<text x="74" y="641">Moyenne des scénarios</text>
<text x="264" y="641">Run de contrôle</text>
<text x="264" y="651">Run GFS</text>
<text x="340" y="656">30 Perts.</text>
<text x="180" y="664">Altitude du modele : 447m</text>
<text x="30" y="696">Vitesse (km/h) et direction (°) du vent moyen 10m</text>
<text x="450" y="677">Ensemble GEFS du 18/04/2026 - 06Z</text>
</g>
<g font-family="'Liberation Mono','DejaVu Sans Mono',monospace" font-size="11.67px" font-weight="bold" fill="#000" stroke="#000" stroke-width="0.3" opacity="0.99">
<text x="30" y="681">Diagramme des ensembles GEFS sur 384h : 38.3N 0.9W</text>
<text x="450" y="696">Copyright 2026 Meteociel.fr</text>
</g>
<g font-family="'Liberation Mono','DejaVu Sans Mono',monospace" font-size="8.3px" letter-spacing="0.02px" fill="#000" stroke="#000" stroke-width="0.22" opacity="0.99">
<text x="400.3" y="647">01</text>
<text x="411.3" y="647">02</text>
<text x="422.3" y="647">03</text>
<text x="433.3" y="647">04</text>
<text x="444.3" y="647">05</text>
<text x="455.3" y="647">06</text>
<text x="466.3" y="647">07</text>
<text x="477.3" y="647">08</text>
<text x="488.3" y="647">09</text>
<text x="499.3" y="647">10</text>
<text x="510.3" y="647">11</text>
<text x="521.3" y="647">12</text>
<text x="532.3" y="647">13</text>
<text x="543.3" y="647">14</text>
<text x="554.3" y="647">15</text>
<text x="565.3" y="647">16</text>
<text x="576.3" y="647">17</text>
<text x="587.3" y="647">18</text>
<text x="598.3" y="647">19</text>
<text x="609.3" y="647">20</text>
<text x="620.3" y="647">21</text>
<text x="631.3" y="647">22</text>
<text x="642.3" y="647">23</text>
<text x="653.3" y="647">24</text>
<text x="664.3" y="647">25</text>
<text x="675.3" y="647">26</text>
<text x="686.3" y="647">27</text>
<text x="697.3" y="647">28</text>
<text x="708.3" y="647">29</text>
<text x="719.3" y="647">30</text>
</g>
<g font-family="'Liberation Mono','DejaVu Sans Mono',monospace" font-size="8.2px" font-weight="bold" fill="#000" stroke="#000" stroke-width="0.3" opacity="0.99">
<text x="88.6" y="549.6">N</text><text x="72.8" y="570">W</text><text x="88.6" y="588.4">S</text><text x="107" y="570">E</text>
</g>
<g shape-rendering="crispEdges">
<rect x="35" y="630" width="31" height="4" fill="#ff0000"/>
<rect x="225" y="635" width="31" height="4" fill="#0000ff"/>
<rect x="225" y="645" width="31" height="4" fill="#000"/>
<rect x="400" y="650" width="10" height="6" fill="#E67E30"/>
<rect x="411" y="650" width="10" height="6" fill="#7CC36C"/>
<rect x="422" y="650" width="10" height="6" fill="#F1C40F"/>
<rect x="433" y="650" width="10" height="6" fill="#8E44AD"/>
<rect x="444" y="650" width="10" height="6" fill="#B04E0F"/>
<rect x="455" y="650" width="10" height="6" fill="#508A0E"/>
<rect x="466" y="650" width="10" height="6" fill="#0A7FFF"/>
<rect x="477" y="650" width="10" height="6" fill="#E8D5B0"/>
<rect x="488" y="650" width="10" height="6" fill="#3A8FC0"/>
<rect x="499" y="650" width="10" height="6" fill="#E8A850"/>
<rect x="510" y="650" width="10" height="6" fill="#5E4A1E"/>
<rect x="521" y="650" width="10" height="6" fill="#F26522"/>
<rect x="532" y="650" width="10" height="6" fill="#D4C078"/>
<rect x="543" y="650" width="10" height="6" fill="#00D455"/>
<rect x="554" y="650" width="10" height="6" fill="#23405E"/>
<rect x="565" y="650" width="10" height="6" fill="#6A737B"/>
<rect x="576" y="650" width="10" height="6" fill="#DF73FF"/>
<rect x="587" y="650" width="10" height="6" fill="#7B1FF2"/>
<rect x="598" y="650" width="10" height="6" fill="#7A5A2A"/>
<rect x="609" y="650" width="10" height="6" fill="#35096B"/>
<rect x="620" y="650" width="10" height="6" fill="#F0D80A"/>
<rect x="631" y="650" width="10" height="6" fill="#2868A0"/>
<rect x="642" y="650" width="10" height="6" fill="#905A20"/>
<rect x="653" y="650" width="10" height="6" fill="#A08CE8"/>
<rect x="664" y="650" width="10" height="6" fill="#9EF03C"/>
<rect x="675" y="650" width="10" height="6" fill="#D070D0"/>
<rect x="686" y="650" width="10" height="6" fill="#1C0C9C"/>
<rect x="697" y="650" width="10" height="6" fill="#E0C8A0"/>
<rect x="708" y="650" width="10" height="6" fill="#8C0A10"/>
<rect x="719" y="650" width="10" height="6" fill="#0A30B8"/>
<rect x="20.5" y="667.5" width="420" height="32" fill="none" stroke="#000" stroke-width="1"/>
</g>
</svg>
</body>
</html>
